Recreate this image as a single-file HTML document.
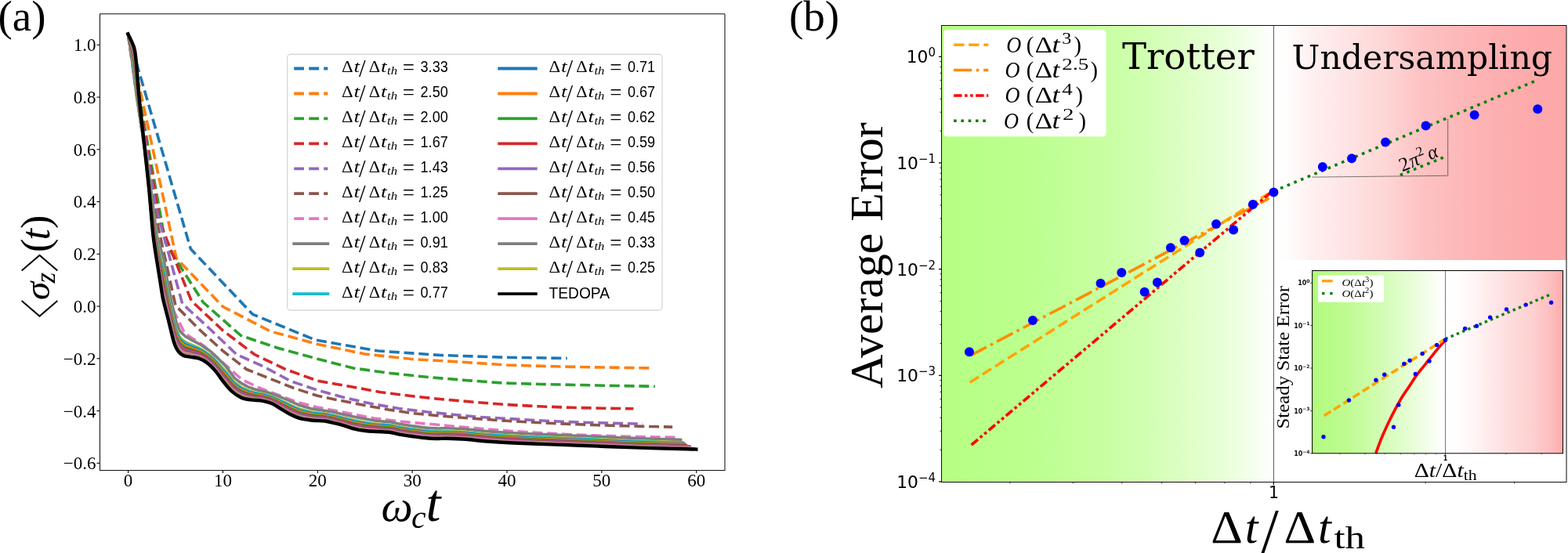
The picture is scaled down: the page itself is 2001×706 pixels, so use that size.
<!DOCTYPE html><html><head><meta charset="utf-8"><title>Figure</title><style>html,body{margin:0;padding:0;background:#fff;overflow:hidden}svg{display:block}</style></head><body><svg width="2001" height="706" viewBox="0 0 2001 706">
<rect width="2001" height="706" fill="#fff"/>
<g font-family="'Liberation Serif', 'DejaVu Serif', serif" font-size="23" fill="#000">
<line x1="123.5" y1="57.30" x2="127.3" y2="57.30" stroke="#000" stroke-width="1.1"/>
<text x="122.6" y="65.2" text-anchor="end">1.0</text>
<line x1="123.5" y1="124.05" x2="127.3" y2="124.05" stroke="#000" stroke-width="1.1"/>
<text x="122.6" y="131.9" text-anchor="end">0.8</text>
<line x1="123.5" y1="190.80" x2="127.3" y2="190.80" stroke="#000" stroke-width="1.1"/>
<text x="122.6" y="198.7" text-anchor="end">0.6</text>
<line x1="123.5" y1="257.55" x2="127.3" y2="257.55" stroke="#000" stroke-width="1.1"/>
<text x="122.6" y="265.4" text-anchor="end">0.4</text>
<line x1="123.5" y1="324.30" x2="127.3" y2="324.30" stroke="#000" stroke-width="1.1"/>
<text x="122.6" y="332.2" text-anchor="end">0.2</text>
<line x1="123.5" y1="391.05" x2="127.3" y2="391.05" stroke="#000" stroke-width="1.1"/>
<text x="122.6" y="398.9" text-anchor="end">0.0</text>
<line x1="123.5" y1="457.80" x2="127.3" y2="457.80" stroke="#000" stroke-width="1.1"/>
<text x="122.6" y="465.7" text-anchor="end">−0.2</text>
<line x1="123.5" y1="524.55" x2="127.3" y2="524.55" stroke="#000" stroke-width="1.1"/>
<text x="122.6" y="532.5" text-anchor="end">−0.4</text>
<line x1="123.5" y1="591.30" x2="127.3" y2="591.30" stroke="#000" stroke-width="1.1"/>
<text x="122.6" y="599.2" text-anchor="end">−0.6</text>
<line x1="163.60" y1="600.3" x2="163.60" y2="604.1" stroke="#000" stroke-width="1.1"/>
<text x="163.60" y="620.7" text-anchor="middle">0</text>
<line x1="284.45" y1="600.3" x2="284.45" y2="604.1" stroke="#000" stroke-width="1.1"/>
<text x="284.45" y="620.7" text-anchor="middle">10</text>
<line x1="405.30" y1="600.3" x2="405.30" y2="604.1" stroke="#000" stroke-width="1.1"/>
<text x="405.30" y="620.7" text-anchor="middle">20</text>
<line x1="526.15" y1="600.3" x2="526.15" y2="604.1" stroke="#000" stroke-width="1.1"/>
<text x="526.15" y="620.7" text-anchor="middle">30</text>
<line x1="647.00" y1="600.3" x2="647.00" y2="604.1" stroke="#000" stroke-width="1.1"/>
<text x="647.00" y="620.7" text-anchor="middle">40</text>
<line x1="767.85" y1="600.3" x2="767.85" y2="604.1" stroke="#000" stroke-width="1.1"/>
<text x="767.85" y="620.7" text-anchor="middle">50</text>
<line x1="888.70" y1="600.3" x2="888.70" y2="604.1" stroke="#000" stroke-width="1.1"/>
<text x="888.70" y="620.7" text-anchor="middle">60</text>
</g>
<g fill="none" stroke-linejoin="round">
<polyline points="163.4,43.4 243.3,317.8 322.5,401.3 401.8,433.8 482.6,448.0 562.4,453.5 642.0,456.2 723.7,457.4" stroke="#1f77b4" stroke-width="3.6" stroke-dasharray="13 5.8"/>
<polyline points="163.4,43.4 225.0,329.5 284.5,391.5 345.2,423.0 405.3,439.5 465.7,452.0 526.0,458.5 586.4,462.0 646.8,466.0 707.0,467.8 767.6,469.0 828.6,469.9" stroke="#ff7f0e" stroke-width="3.6" stroke-dasharray="13 5.8"/>
<polyline points="163.4,43.4 211.2,310.4 259.3,386.0 307.5,428.5 355.0,444.5 402.9,457.5 450.8,470.0 498.6,476.5 546.5,481.5 594.4,485.5 642.0,489.0 690.0,490.5 738.0,491.5 786.0,492.5 835.9,493.2" stroke="#2ca02c" stroke-width="3.6" stroke-dasharray="13 5.8"/>
<polyline points="163.4,43.4 203.9,283.6 244.2,384.0 284.5,422.0 324.8,452.5 365.1,471.8 405.4,486.2 445.7,493.3 486.0,500.7 526.3,505.8 566.6,510.0 606.9,513.5 647.2,516.6 687.5,518.8 727.8,520.3 768.1,521.2 808.4,521.8" stroke="#d62728" stroke-width="3.6" stroke-dasharray="13 5.8"/>
<polyline points="163.4,43.4 198.2,261.7 232.7,387.7 267.3,419.5 301.8,452.5 336.4,468.0 370.9,486.5 405.5,498.2 440.0,507.8 474.6,515.5 509.1,521.5 543.7,525.8 578.2,529.2 612.8,532.5 647.3,534.4 681.9,536.5 716.4,538.3 751.0,539.5 785.5,540.4 820.1,541.1" stroke="#9467bd" stroke-width="3.6" stroke-dasharray="13 5.8"/>
<polyline points="163.4,43.4 193.8,253.4 224.0,390.0 254.2,420.5 284.4,448.0 314.6,471.5 344.8,483.5 375.0,495.5 405.2,505.3 435.4,511.6 465.6,517.5 495.8,523.0 526.0,527.5 556.2,530.5 586.4,533.0 616.6,535.2 646.8,537.3 677.0,539.0 707.2,540.5 737.4,541.8 767.6,542.9 797.8,543.8 828.0,544.5 858.2,545.1" stroke="#8c564b" stroke-width="3.6" stroke-dasharray="13 5.8"/>
<polyline points="163.4,43.4 187.8,215.0 212.0,378.0 236.1,426.0 260.3,441.5 284.5,463.0 308.6,484.5 332.8,496.0 357.0,505.0 381.1,514.0 405.3,520.0 429.5,524.5 453.6,529.5 477.8,534.0 502.0,537.0 526.1,539.5 550.3,541.5 574.5,543.8 598.6,545.8 622.8,548.0 647.0,550.0 671.1,551.5 695.3,553.0 719.5,554.3 743.6,555.3 767.8,556.2 792.0,557.0 816.1,557.6 840.3,558.0 864.5,558.3" stroke="#e377c2" stroke-width="3.6" stroke-dasharray="13 5.8"/>
<path d="M163.40,43.40 C164.30,49.50 167.53,71.06 168.80,80.00 C170.07,88.94 170.20,90.86 171.00,97.07 C171.80,103.28 173.00,112.59 173.60,117.24 C174.20,121.90 173.93,120.48 174.60,125.00 C175.27,129.52 176.57,137.69 177.60,144.35 C178.63,151.02 179.80,159.12 180.80,165.00 C181.80,170.88 182.48,173.79 183.60,179.63 C184.72,185.46 186.43,193.27 187.50,200.00 C188.57,206.73 188.68,209.47 190.00,220.00 C191.32,230.53 193.73,249.87 195.40,263.20 C197.07,276.53 199.15,293.58 200.00,300.00 C200.85,306.42 199.75,299.15 200.50,301.70 C201.25,304.26 203.30,311.25 204.50,315.34 C205.70,319.43 206.98,323.81 207.70,326.25 C208.42,328.69 208.22,326.99 208.80,330.00 C209.38,333.01 210.37,339.34 211.20,344.30 C212.03,349.27 213.20,356.39 213.80,359.80 C214.40,363.21 214.05,361.04 214.80,364.75 C215.55,368.46 217.47,377.95 218.30,382.07 C219.13,386.20 219.20,386.76 219.80,389.50 C220.40,392.24 221.08,395.00 221.90,398.50 C222.72,402.00 224.12,408.22 224.70,410.50 C225.28,412.78 224.57,410.18 225.40,412.18 C226.23,414.18 228.05,419.83 229.70,422.50 C231.35,425.17 234.13,427.00 235.30,428.18 C236.47,429.36 235.28,428.70 236.70,429.60 C238.12,430.50 242.13,432.64 243.80,433.58 C245.47,434.51 245.28,434.43 246.70,435.20 C248.12,435.97 250.42,437.17 252.30,438.17 C254.18,439.17 256.82,440.53 258.00,441.20 C259.18,441.87 257.98,441.19 259.40,442.17 C260.82,443.14 264.85,445.93 266.50,447.07 C268.15,448.21 268.12,447.99 269.30,449.00 C270.48,450.01 271.95,451.56 273.60,453.15 C275.25,454.74 278.02,457.41 279.20,458.55 C280.38,459.69 279.93,459.21 280.70,460.00 C281.47,460.79 282.38,461.78 283.80,463.28 C285.22,464.78 287.22,466.60 289.20,469.00 C291.18,471.40 293.98,475.41 295.70,477.71 C297.42,480.01 297.52,480.92 299.50,482.80 C301.48,484.68 306.18,487.91 307.60,488.99 C309.02,490.08 306.52,488.50 308.00,489.30 C309.48,490.10 314.58,492.86 316.50,493.80 C318.42,494.74 318.08,494.40 319.50,494.93 C320.92,495.46 322.37,496.25 325.00,497.00 C327.63,497.75 332.80,498.82 335.30,499.40 C337.80,499.99 338.02,499.90 340.00,500.50 C341.98,501.10 344.83,502.17 347.20,502.98 C349.57,503.80 352.22,504.67 354.20,505.40 C356.18,506.13 356.75,506.43 359.10,507.38 C361.45,508.33 366.32,510.28 368.30,511.10 C370.28,511.92 368.63,511.25 371.00,512.32 C373.37,513.38 380.52,516.62 382.50,517.50 C384.48,518.38 380.53,516.92 382.90,517.62 C385.27,518.32 394.05,520.97 396.70,521.70 C399.35,522.43 396.45,521.66 398.80,522.01 C401.15,522.36 408.17,523.40 410.80,523.80 C413.43,524.20 412.23,524.02 414.60,524.39 C416.97,524.76 423.02,525.67 425.00,526.00 C426.98,526.33 424.27,525.82 426.50,526.37 C428.73,526.92 436.28,528.78 438.40,529.30 C440.52,529.82 437.22,529.09 439.20,529.50 C441.18,529.91 446.83,531.04 450.30,531.74 C453.77,532.44 457.35,533.19 460.00,533.70 C462.65,534.21 462.53,534.14 466.20,534.79 C469.87,535.43 476.72,536.92 482.00,537.56 C487.28,538.20 493.27,538.01 497.90,538.63 C502.53,539.25 505.17,540.43 509.80,541.29 C514.43,542.14 520.42,543.01 525.70,543.77 C530.98,544.52 536.22,545.32 541.50,545.84 C546.78,546.37 552.60,546.76 557.40,546.92 C562.20,547.07 564.13,546.61 570.30,546.78 C576.47,546.94 586.37,547.29 594.40,547.89 C602.43,548.50 609.23,549.63 618.50,550.41 C627.77,551.18 637.20,551.85 650.00,552.56 C662.80,553.27 680.18,554.02 695.30,554.67 C710.42,555.33 725.58,555.85 740.70,556.49 C755.82,557.13 770.90,557.87 786.00,558.50 C801.10,559.14 817.52,559.84 831.30,560.32 C845.08,560.80 862.47,561.22 868.70,561.40" stroke="#7f7f7f" stroke-width="3.6" stroke-linecap="square"/>
<path d="M163.40,43.40 C164.30,48.36 167.53,65.92 168.80,73.15 C170.07,80.39 170.20,81.36 171.00,86.83 C171.80,92.30 173.00,101.32 173.60,106.00 C174.20,110.69 173.93,109.45 174.60,114.94 C175.27,120.43 176.57,131.09 177.60,138.94 C178.63,146.78 179.80,155.21 180.80,162.01 C181.80,168.81 182.48,172.63 183.60,179.73 C184.72,186.84 186.43,196.99 187.50,204.64 C188.57,212.28 188.68,214.12 190.00,225.60 C191.32,237.08 193.73,259.63 195.40,273.50 C197.07,287.38 199.15,302.59 200.00,308.84 C200.85,315.09 199.75,307.86 200.50,311.03 C201.25,314.19 203.30,322.80 204.50,327.85 C205.70,332.89 206.98,338.40 207.70,341.30 C208.42,344.20 208.22,342.42 208.80,345.25 C209.38,348.08 210.37,353.77 211.20,358.27 C212.03,362.78 213.20,369.17 213.80,372.28 C214.40,375.39 214.05,373.43 214.80,376.94 C215.55,380.46 217.47,389.49 218.30,393.39 C219.13,397.30 219.20,397.76 219.80,400.40 C220.40,403.03 221.08,405.97 221.90,409.20 C222.72,412.42 224.12,417.70 224.70,419.74 C225.28,421.78 224.57,419.64 225.40,421.43 C226.23,423.21 228.05,428.07 229.70,430.42 C231.35,432.77 234.13,434.49 235.30,435.52 C236.47,436.55 235.28,435.90 236.70,436.61 C238.12,437.32 242.13,439.05 243.80,439.80 C245.47,440.55 245.28,440.48 246.70,441.10 C248.12,441.72 250.42,442.63 252.30,443.50 C254.18,444.37 256.82,445.70 258.00,446.31 C259.18,446.92 257.98,446.20 259.40,447.16 C260.82,448.12 264.85,450.90 266.50,452.09 C268.15,453.27 268.12,453.20 269.30,454.26 C270.48,455.33 271.95,456.78 273.60,458.46 C275.25,460.13 278.02,463.08 279.20,464.33 C280.38,465.58 279.93,465.09 280.70,465.96 C281.47,466.83 282.38,467.96 283.80,469.53 C285.22,471.11 287.22,473.03 289.20,475.41 C291.18,477.79 293.98,481.68 295.70,483.81 C297.42,485.94 297.52,486.46 299.50,488.18 C301.48,489.91 306.18,493.11 307.60,494.15 C309.02,495.18 306.52,493.71 308.00,494.40 C309.48,495.08 314.58,497.43 316.50,498.24 C318.42,499.05 318.08,498.82 319.50,499.26 C320.92,499.70 322.37,500.29 325.00,500.89 C327.63,501.49 332.80,502.35 335.30,502.87 C337.80,503.40 338.02,503.46 340.00,504.05 C341.98,504.64 344.83,505.55 347.20,506.43 C349.57,507.31 352.22,508.47 354.20,509.32 C356.18,510.18 356.75,510.49 359.10,511.56 C361.45,512.63 366.32,514.82 368.30,515.73 C370.28,516.64 368.63,515.98 371.00,517.04 C373.37,518.11 380.52,521.26 382.50,522.13 C384.48,523.00 380.53,521.65 382.90,522.26 C385.27,522.87 394.05,525.16 396.70,525.81 C399.35,526.45 396.45,525.83 398.80,526.13 C401.15,526.42 408.17,527.26 410.80,527.58 C413.43,527.90 412.23,527.68 414.60,528.06 C416.97,528.44 423.02,529.50 425.00,529.86 C426.98,530.22 424.27,529.66 426.50,530.21 C428.73,530.77 436.28,532.64 438.40,533.17 C440.52,533.69 437.22,532.90 439.20,533.38 C441.18,533.86 446.83,535.28 450.30,536.04 C453.77,536.80 457.35,537.45 460.00,537.95 C462.65,538.45 462.53,538.48 466.20,539.05 C469.87,539.61 476.72,540.77 482.00,541.32 C487.28,541.88 493.27,541.76 497.90,542.38 C502.53,542.99 505.17,544.17 509.80,545.02 C514.43,545.87 520.42,546.72 525.70,547.47 C530.98,548.22 536.22,549.01 541.50,549.53 C546.78,550.04 552.60,550.43 557.40,550.58 C562.20,550.73 564.13,550.27 570.30,550.42 C576.47,550.58 586.37,550.91 594.40,551.51 C602.43,552.10 609.23,553.22 618.50,553.99 C627.77,554.75 637.20,555.40 650.00,556.10 C662.80,556.79 680.18,557.52 695.30,558.15 C710.42,558.79 725.58,559.29 740.70,559.91 C755.82,560.53 770.90,561.24 786.00,561.86 C801.10,562.48 817.22,563.15 831.30,563.62 C845.38,564.09 863.97,564.52 870.50,564.70" stroke="#bcbd22" stroke-width="3.6" stroke-linecap="square"/>
<path d="M163.40,43.40 C164.30,48.11 167.53,64.81 168.80,71.69 C170.07,78.56 170.20,79.32 171.00,84.64 C171.80,89.95 173.00,98.90 173.60,103.59 C174.20,108.28 173.93,107.09 174.60,112.79 C175.27,118.48 176.57,129.68 177.60,137.77 C178.63,145.87 179.80,154.38 180.80,161.37 C181.80,168.37 182.48,172.38 183.60,179.75 C184.72,187.13 186.43,197.79 187.50,205.63 C188.57,213.47 188.68,215.12 190.00,226.80 C191.32,238.48 193.73,261.72 195.40,275.71 C197.07,289.70 199.15,304.51 200.00,310.73 C200.85,316.95 199.75,309.73 200.50,313.02 C201.25,316.32 203.30,325.27 204.50,330.52 C205.70,335.77 206.98,341.53 207.70,344.52 C208.42,347.52 208.22,345.73 208.80,348.52 C209.38,351.31 210.37,356.86 211.20,361.27 C212.03,365.68 213.20,371.91 213.80,374.96 C214.40,378.01 214.05,376.08 214.80,379.56 C215.55,383.03 217.47,391.96 218.30,395.82 C219.13,399.68 219.20,400.12 219.80,402.73 C220.40,405.34 221.08,408.32 221.90,411.49 C222.72,414.65 224.12,419.73 224.70,421.72 C225.28,423.71 224.57,421.67 225.40,423.41 C226.23,425.14 228.05,429.84 229.70,432.12 C231.35,434.40 234.13,436.10 235.30,437.09 C236.47,438.09 235.28,437.44 236.70,438.11 C238.12,438.78 242.13,440.42 243.80,441.13 C245.47,441.84 245.28,441.78 246.70,442.37 C248.12,442.95 250.42,443.80 252.30,444.64 C254.18,445.48 256.82,446.81 258.00,447.40 C259.18,448.00 257.98,447.27 259.40,448.23 C260.82,449.19 264.85,451.97 266.50,453.16 C268.15,454.36 268.12,454.32 269.30,455.39 C270.48,456.46 271.95,457.90 273.60,459.59 C275.25,461.29 278.02,464.30 279.20,465.57 C280.38,466.85 279.93,466.35 280.70,467.24 C281.47,468.12 282.38,469.28 283.80,470.87 C285.22,472.46 287.22,474.41 289.20,476.79 C291.18,479.16 293.98,483.03 295.70,485.12 C297.42,487.21 297.52,487.65 299.50,489.34 C301.48,491.02 306.18,494.23 307.60,495.25 C309.02,496.28 306.52,494.83 308.00,495.49 C309.48,496.14 314.58,498.40 316.50,499.19 C318.42,499.97 318.08,499.77 319.50,500.19 C320.92,500.61 322.37,501.15 325.00,501.72 C327.63,502.29 332.80,503.10 335.30,503.62 C337.80,504.13 338.02,504.22 340.00,504.81 C341.98,505.40 344.83,506.28 347.20,507.17 C349.57,508.06 352.22,509.29 354.20,510.17 C356.18,511.05 356.75,511.36 359.10,512.45 C361.45,513.55 366.32,515.79 368.30,516.72 C370.28,517.66 368.63,516.99 371.00,518.06 C373.37,519.12 380.52,522.25 382.50,523.12 C384.48,523.99 380.53,522.66 382.90,523.26 C385.27,523.85 394.05,526.06 396.70,526.69 C399.35,527.31 396.45,526.72 398.80,527.01 C401.15,527.29 408.17,528.09 410.80,528.39 C413.43,528.70 412.23,528.46 414.60,528.85 C416.97,529.23 423.02,530.32 425.00,530.68 C426.98,531.05 424.27,530.49 426.50,531.04 C428.73,531.59 436.28,533.46 438.40,533.99 C440.52,534.52 437.22,533.72 439.20,534.22 C441.18,534.71 446.83,536.19 450.30,536.96 C453.77,537.74 457.35,538.36 460.00,538.86 C462.65,539.36 462.53,539.41 466.20,539.96 C469.87,540.50 476.72,541.59 482.00,542.13 C487.28,542.66 493.27,542.56 497.90,543.18 C502.53,543.79 505.17,544.97 509.80,545.82 C514.43,546.66 520.42,547.52 525.70,548.27 C530.98,549.01 536.22,549.80 541.50,550.31 C546.78,550.83 552.60,551.22 557.40,551.36 C562.20,551.51 564.13,551.05 570.30,551.21 C576.47,551.36 586.37,551.69 594.40,552.28 C602.43,552.87 609.23,553.99 618.50,554.76 C627.77,555.52 637.20,556.17 650.00,556.86 C662.80,557.55 680.18,558.27 695.30,558.90 C710.42,559.53 725.58,560.03 740.70,560.64 C755.82,561.25 770.90,561.97 786.00,562.58 C801.10,563.20 817.02,563.85 831.30,564.33 C845.58,564.80 864.97,565.25 871.70,565.43" stroke="#17becf" stroke-width="3.6" stroke-linecap="square"/>
<path d="M163.40,43.40 C164.30,47.79 167.53,63.35 168.80,69.73 C170.07,76.12 170.20,76.60 171.00,81.71 C171.80,86.82 173.00,95.68 173.60,100.38 C174.20,105.08 173.93,103.94 174.60,109.91 C175.27,115.89 176.57,127.79 177.60,136.23 C178.63,144.66 179.80,153.26 180.80,160.52 C181.80,167.78 182.48,172.04 183.60,179.78 C184.72,187.52 186.43,198.85 187.50,206.96 C188.57,215.06 188.68,216.45 190.00,228.40 C191.32,240.35 193.73,264.51 195.40,278.66 C197.07,292.80 199.15,307.09 200.00,313.26 C200.85,319.43 199.75,312.22 200.50,315.69 C201.25,319.16 203.30,328.57 204.50,334.10 C205.70,339.62 206.98,345.70 207.70,348.82 C208.42,351.95 208.22,350.14 208.80,352.87 C209.38,355.61 210.37,360.99 211.20,365.26 C212.03,369.54 213.20,375.56 213.80,378.53 C214.40,381.49 214.05,379.62 214.80,383.04 C215.55,386.46 217.47,395.25 218.30,399.05 C219.13,402.85 219.20,403.26 219.80,405.85 C220.40,408.43 221.08,411.46 221.90,414.54 C222.72,417.63 224.12,422.44 224.70,424.36 C225.28,426.28 224.57,424.38 225.40,426.05 C226.23,427.72 228.05,432.20 229.70,434.39 C231.35,436.58 234.13,438.24 235.30,439.19 C236.47,440.15 235.28,439.49 236.70,440.11 C238.12,440.73 242.13,442.25 243.80,442.91 C245.47,443.57 245.28,443.51 246.70,444.05 C248.12,444.60 250.42,445.36 252.30,446.16 C254.18,446.97 256.82,448.28 258.00,448.86 C259.18,449.45 257.98,448.70 259.40,449.66 C260.82,450.61 264.85,453.39 266.50,454.60 C268.15,455.81 268.12,455.81 269.30,456.90 C270.48,457.98 271.95,459.39 273.60,461.11 C275.25,462.83 278.02,465.92 279.20,467.22 C280.38,468.53 279.93,468.04 280.70,468.94 C281.47,469.85 282.38,471.04 283.80,472.66 C285.22,474.27 287.22,476.25 289.20,478.62 C291.18,480.99 293.98,484.82 295.70,486.86 C297.42,488.90 297.52,489.23 299.50,490.87 C301.48,492.52 306.18,495.71 307.60,496.72 C309.02,497.74 306.52,496.32 308.00,496.94 C309.48,497.57 314.58,499.71 316.50,500.45 C318.42,501.20 318.08,501.03 319.50,501.43 C320.92,501.82 322.37,502.30 325.00,502.83 C327.63,503.36 332.80,504.11 335.30,504.61 C337.80,505.11 338.02,505.24 340.00,505.83 C341.98,506.42 344.83,507.25 347.20,508.16 C349.57,509.07 352.22,510.37 354.20,511.29 C356.18,512.20 356.75,512.52 359.10,513.65 C361.45,514.77 366.32,517.08 368.30,518.04 C370.28,519.00 368.63,518.34 371.00,519.41 C373.37,520.47 380.52,523.58 382.50,524.44 C384.48,525.31 380.53,524.01 382.90,524.58 C385.27,525.15 394.05,527.26 396.70,527.86 C399.35,528.46 396.45,527.91 398.80,528.18 C401.15,528.45 408.17,529.19 410.80,529.47 C413.43,529.76 412.23,529.51 414.60,529.90 C416.97,530.28 423.02,531.41 425.00,531.78 C426.98,532.16 424.27,531.58 426.50,532.14 C428.73,532.69 436.28,534.57 438.40,535.10 C440.52,535.63 437.22,534.81 439.20,535.32 C441.18,535.84 446.83,537.40 450.30,538.19 C453.77,538.98 457.35,539.57 460.00,540.07 C462.65,540.57 462.53,540.65 466.20,541.18 C469.87,541.70 476.72,542.69 482.00,543.20 C487.28,543.71 493.27,543.63 497.90,544.25 C502.53,544.86 505.17,546.03 509.80,546.88 C514.43,547.73 520.42,548.58 525.70,549.32 C530.98,550.07 536.22,550.85 541.50,551.37 C546.78,551.88 552.60,552.26 557.40,552.41 C562.20,552.56 564.13,552.10 570.30,552.25 C576.47,552.40 586.37,552.72 594.40,553.31 C602.43,553.90 609.23,555.02 618.50,555.78 C627.77,556.54 637.20,557.18 650.00,557.87 C662.80,558.55 680.18,559.27 695.30,559.89 C710.42,560.52 725.58,561.01 740.70,561.62 C755.82,562.23 770.90,562.93 786.00,563.54 C801.10,564.15 816.83,564.79 831.30,565.27 C845.77,565.74 865.88,566.20 872.80,566.39" stroke="#1f77b4" stroke-width="3.6" stroke-linecap="square"/>
<path d="M163.40,43.40 C164.30,47.54 167.53,62.24 168.80,68.26 C170.07,74.28 170.20,74.56 171.00,79.52 C171.80,84.47 173.00,93.27 173.60,97.97 C174.20,102.68 173.93,101.57 174.60,107.76 C175.27,113.94 176.57,126.38 177.60,135.06 C178.63,143.75 179.80,152.42 180.80,159.88 C181.80,167.34 182.48,171.79 183.60,179.81 C184.72,187.82 186.43,199.65 187.50,207.95 C188.57,216.25 188.68,217.45 190.00,229.60 C191.32,241.75 193.73,266.61 195.40,280.86 C197.07,295.12 199.15,309.02 200.00,315.15 C200.85,321.29 199.75,314.08 200.50,317.69 C201.25,321.29 203.30,331.05 204.50,336.78 C205.70,342.50 206.98,348.82 207.70,352.05 C208.42,355.28 208.22,353.44 208.80,356.14 C209.38,358.84 210.37,364.08 211.20,368.25 C212.03,372.43 213.20,378.30 213.80,381.20 C214.40,384.10 214.05,382.27 214.80,385.65 C215.55,389.03 217.47,397.72 218.30,401.48 C219.13,405.23 219.20,405.62 219.80,408.18 C220.40,410.74 221.08,413.81 221.90,416.84 C222.72,419.86 224.12,424.47 224.70,426.34 C225.28,428.21 224.57,426.41 225.40,428.03 C226.23,429.65 228.05,433.96 229.70,436.08 C231.35,438.21 234.13,439.84 235.30,440.77 C236.47,441.69 235.28,441.04 236.70,441.61 C238.12,442.19 242.13,443.63 243.80,444.24 C245.47,444.86 245.28,444.81 246.70,445.32 C248.12,445.83 250.42,446.53 252.30,447.31 C254.18,448.08 256.82,449.39 258.00,449.96 C259.18,450.53 257.98,449.77 259.40,450.73 C260.82,451.68 264.85,454.46 266.50,455.67 C268.15,456.89 268.12,456.93 269.30,458.02 C270.48,459.12 271.95,460.51 273.60,462.25 C275.25,463.99 278.02,467.13 279.20,468.46 C280.38,469.79 279.93,469.30 280.70,470.22 C281.47,471.14 282.38,472.37 283.80,473.99 C285.22,475.62 287.22,477.63 289.20,480.00 C291.18,482.36 293.98,486.16 295.70,488.17 C297.42,490.17 297.52,490.42 299.50,492.03 C301.48,493.64 306.18,496.83 307.60,497.83 C309.02,498.83 306.52,497.44 308.00,498.04 C309.48,498.63 314.58,500.69 316.50,501.40 C318.42,502.12 318.08,501.98 319.50,502.36 C320.92,502.73 322.37,503.17 325.00,503.67 C327.63,504.17 332.80,504.87 335.30,505.35 C337.80,505.84 338.02,506.00 340.00,506.59 C341.98,507.18 344.83,507.97 347.20,508.90 C349.57,509.82 352.22,511.19 354.20,512.13 C356.18,513.07 356.75,513.39 359.10,514.54 C361.45,515.69 366.32,518.06 368.30,519.04 C370.28,520.02 368.63,519.35 371.00,520.42 C373.37,521.49 380.52,524.58 382.50,525.44 C384.48,526.29 380.53,525.03 382.90,525.58 C385.27,526.13 394.05,528.16 396.70,528.74 C399.35,529.32 396.45,528.81 398.80,529.06 C401.15,529.32 408.17,530.01 410.80,530.28 C413.43,530.55 412.23,530.29 414.60,530.68 C416.97,531.07 423.02,532.23 425.00,532.61 C426.98,532.99 424.27,532.41 426.50,532.96 C428.73,533.51 436.28,535.39 438.40,535.93 C440.52,536.46 437.22,535.63 439.20,536.16 C441.18,536.69 446.83,538.31 450.30,539.11 C453.77,539.92 457.35,540.49 460.00,540.98 C462.65,541.48 462.53,541.58 466.20,542.09 C469.87,542.59 476.72,543.52 482.00,544.01 C487.28,544.50 493.27,544.44 497.90,545.05 C502.53,545.66 505.17,546.83 509.80,547.68 C514.43,548.52 520.42,549.37 525.70,550.12 C530.98,550.86 536.22,551.64 541.50,552.16 C546.78,552.67 552.60,553.05 557.40,553.20 C562.20,553.34 564.13,552.88 570.30,553.03 C576.47,553.18 586.37,553.50 594.40,554.09 C602.43,554.67 609.23,555.79 618.50,556.55 C627.77,557.30 637.20,557.94 650.00,558.63 C662.80,559.31 680.18,560.02 695.30,560.64 C710.42,561.26 725.58,561.75 740.70,562.35 C755.82,562.95 770.90,563.66 786.00,564.26 C801.10,564.87 816.72,565.50 831.30,565.97 C845.88,566.45 866.47,566.91 873.50,567.10" stroke="#ff7f0e" stroke-width="3.6" stroke-linecap="square"/>
<path d="M163.40,43.40 C164.30,47.22 167.53,60.78 168.80,66.31 C170.07,71.84 170.20,71.85 171.00,76.59 C171.80,81.33 173.00,90.05 173.60,94.76 C174.20,99.48 173.93,98.42 174.60,104.88 C175.27,111.34 176.57,124.49 177.60,133.52 C178.63,142.54 179.80,151.31 180.80,159.03 C181.80,166.75 182.48,171.46 183.60,179.84 C184.72,188.21 186.43,200.71 187.50,209.28 C188.57,217.84 188.68,218.78 190.00,231.20 C191.32,243.62 193.73,269.39 195.40,283.81 C197.07,298.22 199.15,311.59 200.00,317.68 C200.85,323.77 199.75,316.57 200.50,320.35 C201.25,324.13 203.30,334.35 204.50,340.35 C205.70,346.35 206.98,352.99 207.70,356.35 C208.42,359.71 208.22,357.85 208.80,360.50 C209.38,363.15 210.37,368.20 211.20,372.25 C212.03,376.29 213.20,381.95 213.80,384.77 C214.40,387.58 214.05,385.81 214.80,389.14 C215.55,392.46 217.47,401.02 218.30,404.71 C219.13,408.41 219.20,408.76 219.80,411.29 C220.40,413.82 221.08,416.94 221.90,419.89 C222.72,422.84 224.12,427.18 224.70,428.98 C225.28,430.78 224.57,429.11 225.40,430.67 C226.23,432.23 228.05,436.32 229.70,438.35 C231.35,440.38 234.13,441.99 235.30,442.86 C236.47,443.74 235.28,443.09 236.70,443.62 C238.12,444.14 242.13,445.46 243.80,446.02 C245.47,446.59 245.28,446.54 246.70,447.00 C248.12,447.47 250.42,448.09 252.30,448.83 C254.18,449.56 256.82,450.86 258.00,451.42 C259.18,451.97 257.98,451.20 259.40,452.15 C260.82,453.10 264.85,455.88 266.50,457.11 C268.15,458.34 268.12,458.42 269.30,459.53 C270.48,460.64 271.95,462.00 273.60,463.76 C275.25,465.53 278.02,468.76 279.20,470.12 C280.38,471.48 279.93,470.98 280.70,471.92 C281.47,472.86 282.38,474.13 283.80,475.78 C285.22,477.43 287.22,479.47 289.20,481.83 C291.18,484.18 293.98,487.96 295.70,489.91 C297.42,491.87 297.52,492.00 299.50,493.56 C301.48,495.13 306.18,498.31 307.60,499.30 C309.02,500.29 306.52,498.93 308.00,499.49 C309.48,500.05 314.58,501.99 316.50,502.67 C318.42,503.36 318.08,503.24 319.50,503.59 C320.92,503.94 322.37,504.32 325.00,504.78 C327.63,505.24 332.80,505.87 335.30,506.35 C337.80,506.82 338.02,507.01 340.00,507.60 C341.98,508.19 344.83,508.94 347.20,509.88 C349.57,510.82 352.22,512.27 354.20,513.25 C356.18,514.23 356.75,514.55 359.10,515.74 C361.45,516.92 366.32,519.35 368.30,520.36 C370.28,521.37 368.63,520.71 371.00,521.77 C373.37,522.84 380.52,525.90 382.50,526.76 C384.48,527.61 380.53,526.38 382.90,526.90 C385.27,527.43 394.05,529.36 396.70,529.92 C399.35,530.47 396.45,530.00 398.80,530.24 C401.15,530.48 408.17,531.12 410.80,531.36 C413.43,531.61 412.23,531.34 414.60,531.73 C416.97,532.12 423.02,533.32 425.00,533.71 C426.98,534.10 424.27,533.51 426.50,534.06 C428.73,534.61 436.28,536.49 438.40,537.03 C440.52,537.56 437.22,536.71 439.20,537.27 C441.18,537.82 446.83,539.52 450.30,540.34 C453.77,541.16 457.35,541.70 460.00,542.19 C462.65,542.69 462.53,542.82 466.20,543.31 C469.87,543.79 476.72,544.62 482.00,545.09 C487.28,545.55 493.27,545.51 497.90,546.12 C502.53,546.73 505.17,547.90 509.80,548.74 C514.43,549.59 520.42,550.43 525.70,551.18 C530.98,551.92 536.22,552.70 541.50,553.21 C546.78,553.72 552.60,554.10 557.40,554.24 C562.20,554.39 564.13,553.92 570.30,554.07 C576.47,554.22 586.37,554.54 594.40,555.12 C602.43,555.70 609.23,556.82 618.50,557.57 C627.77,558.32 637.20,558.96 650.00,559.64 C662.80,560.31 680.18,561.02 695.30,561.63 C710.42,562.25 725.58,562.73 740.70,563.33 C755.82,563.93 770.90,564.62 786.00,565.22 C801.10,565.82 816.57,566.45 831.30,566.92 C846.03,567.39 867.22,567.86 874.40,568.05" stroke="#2ca02c" stroke-width="3.6" stroke-linecap="square"/>
<path d="M163.40,43.40 C164.30,46.89 167.53,59.31 168.80,64.35 C170.07,69.40 170.20,69.13 171.00,73.66 C171.80,78.20 173.00,86.83 173.60,91.55 C174.20,96.27 173.93,95.27 174.60,102.01 C175.27,108.74 176.57,122.61 177.60,131.97 C178.63,141.33 179.80,150.19 180.80,158.17 C181.80,166.16 182.48,171.13 183.60,179.87 C184.72,188.60 186.43,201.78 187.50,210.60 C188.57,219.42 188.68,220.11 190.00,232.80 C191.32,245.49 193.73,272.18 195.40,286.75 C197.07,301.32 199.15,314.16 200.00,320.20 C200.85,326.25 199.75,319.06 200.50,323.01 C201.25,326.97 203.30,337.65 204.50,343.92 C205.70,350.20 206.98,357.16 207.70,360.65 C208.42,364.14 208.22,362.26 208.80,364.86 C209.38,367.45 210.37,372.32 211.20,376.24 C212.03,380.15 213.20,385.60 213.80,388.33 C214.40,391.06 214.05,389.35 214.80,392.62 C215.55,395.89 217.47,404.32 218.30,407.95 C219.13,411.58 219.20,411.91 219.80,414.41 C220.40,416.91 221.08,420.08 221.90,422.95 C222.72,425.82 224.12,429.89 224.70,431.62 C225.28,433.35 224.57,431.81 225.40,433.31 C226.23,434.81 228.05,438.67 229.70,440.61 C231.35,442.55 234.13,444.13 235.30,444.96 C236.47,445.80 235.28,445.15 236.70,445.62 C238.12,446.09 242.13,447.29 243.80,447.80 C245.47,448.31 245.28,448.26 246.70,448.69 C248.12,449.11 250.42,449.65 252.30,450.35 C254.18,451.05 256.82,452.34 258.00,452.88 C259.18,453.42 257.98,452.64 259.40,453.58 C260.82,454.52 264.85,457.30 266.50,458.54 C268.15,459.79 268.12,459.91 269.30,461.03 C270.48,462.15 271.95,463.49 273.60,465.28 C275.25,467.07 278.02,470.38 279.20,471.77 C280.38,473.16 279.93,472.66 280.70,473.62 C281.47,474.59 282.38,475.89 283.80,477.57 C285.22,479.24 287.22,481.31 289.20,483.66 C291.18,486.01 293.98,489.75 295.70,491.66 C297.42,493.56 297.52,493.58 299.50,495.10 C301.48,496.62 306.18,499.80 307.60,500.77 C309.02,501.75 306.52,500.42 308.00,500.95 C309.48,501.48 314.58,503.29 316.50,503.94 C318.42,504.59 318.08,504.51 319.50,504.83 C320.92,505.16 322.37,505.47 325.00,505.89 C327.63,506.31 332.80,506.88 335.30,507.34 C337.80,507.79 338.02,508.03 340.00,508.62 C341.98,509.20 344.83,509.91 347.20,510.87 C349.57,511.83 352.22,513.36 354.20,514.37 C356.18,515.38 356.75,515.71 359.10,516.93 C361.45,518.15 366.32,520.65 368.30,521.68 C370.28,522.71 368.63,522.06 371.00,523.12 C373.37,524.19 380.52,527.23 382.50,528.08 C384.48,528.93 380.53,527.73 382.90,528.23 C385.27,528.73 394.05,530.56 396.70,531.09 C399.35,531.62 396.45,531.19 398.80,531.41 C401.15,531.64 408.17,532.22 410.80,532.44 C413.43,532.67 412.23,532.39 414.60,532.78 C416.97,533.17 423.02,534.42 425.00,534.81 C426.98,535.21 424.27,534.60 426.50,535.16 C428.73,535.71 436.28,537.60 438.40,538.13 C440.52,538.67 437.22,537.80 439.20,538.38 C441.18,538.95 446.83,540.73 450.30,541.57 C453.77,542.41 457.35,542.92 460.00,543.41 C462.65,543.90 462.53,544.06 466.20,544.52 C469.87,544.98 476.72,545.72 482.00,546.16 C487.28,546.60 493.27,546.58 497.90,547.19 C502.53,547.80 505.17,548.97 509.80,549.81 C514.43,550.65 520.42,551.49 525.70,552.24 C530.98,552.98 536.22,553.75 541.50,554.26 C546.78,554.77 552.60,555.15 557.40,555.29 C562.20,555.43 564.13,554.97 570.30,555.11 C576.47,555.26 586.37,555.57 594.40,556.15 C602.43,556.73 609.23,557.85 618.50,558.59 C627.77,559.34 637.20,559.98 650.00,560.65 C662.80,561.32 680.18,562.02 695.30,562.63 C710.42,563.24 725.58,563.71 740.70,564.30 C755.82,564.90 770.90,565.59 786.00,566.18 C801.10,566.77 816.38,567.39 831.30,567.86 C846.22,568.33 868.13,568.81 875.50,569.01" stroke="#d62728" stroke-width="3.6" stroke-linecap="square"/>
<path d="M163.40,43.40 C164.30,46.65 167.53,58.21 168.80,62.89 C170.07,67.56 170.20,67.09 171.00,71.47 C171.80,75.85 173.00,84.41 173.60,89.14 C174.20,93.87 173.93,92.91 174.60,99.85 C175.27,106.80 176.57,121.19 177.60,130.81 C178.63,140.42 179.80,149.35 180.80,157.53 C181.80,165.71 182.48,170.88 183.60,179.89 C184.72,188.90 186.43,202.58 187.50,211.59 C188.57,220.61 188.68,221.11 190.00,234.00 C191.32,246.89 193.73,274.28 195.40,288.96 C197.07,303.64 199.15,316.09 200.00,322.10 C200.85,328.11 199.75,320.93 200.50,325.01 C201.25,329.10 203.30,340.12 204.50,346.60 C205.70,353.08 206.98,360.29 207.70,363.88 C208.42,367.46 208.22,365.56 208.80,368.12 C209.38,370.68 210.37,375.42 211.20,379.23 C212.03,383.05 213.20,388.34 213.80,391.01 C214.40,393.68 214.05,392.01 214.80,395.24 C215.55,398.46 217.47,406.79 218.30,410.37 C219.13,413.96 219.20,414.26 219.80,416.74 C220.40,419.22 221.08,422.43 221.90,425.24 C222.72,428.05 224.12,431.92 224.70,433.60 C225.28,435.28 224.57,433.84 225.40,435.29 C226.23,436.75 228.05,440.44 229.70,442.31 C231.35,444.18 234.13,445.73 235.30,446.53 C236.47,447.34 235.28,446.69 236.70,447.12 C238.12,447.55 242.13,448.66 243.80,449.13 C245.47,449.60 245.28,449.56 246.70,449.95 C248.12,450.35 250.42,450.82 252.30,451.49 C254.18,452.16 256.82,453.45 258.00,453.97 C259.18,454.50 257.98,453.71 259.40,454.65 C260.82,455.59 264.85,458.37 266.50,459.62 C268.15,460.87 268.12,461.03 269.30,462.16 C270.48,463.29 271.95,464.61 273.60,466.41 C275.25,468.22 278.02,471.59 279.20,473.01 C280.38,474.42 279.93,473.92 280.70,474.90 C281.47,475.88 282.38,477.22 283.80,478.90 C285.22,480.59 287.22,482.69 289.20,485.04 C291.18,487.38 293.98,491.09 295.70,492.96 C297.42,494.83 297.52,494.77 299.50,496.26 C301.48,497.74 306.18,500.91 307.60,501.88 C309.02,502.84 306.52,501.54 308.00,502.04 C309.48,502.54 314.58,504.27 316.50,504.89 C318.42,505.51 318.08,505.45 319.50,505.76 C320.92,506.06 322.37,506.33 325.00,506.72 C327.63,507.11 332.80,507.64 335.30,508.08 C337.80,508.52 338.02,508.79 340.00,509.38 C341.98,509.97 344.83,510.63 347.20,511.61 C349.57,512.58 352.22,514.18 354.20,515.21 C356.18,516.25 356.75,516.58 359.10,517.82 C361.45,519.07 366.32,521.62 368.30,522.67 C370.28,523.73 368.63,523.07 371.00,524.14 C373.37,525.20 380.52,528.22 382.50,529.07 C384.48,529.92 380.53,528.74 382.90,529.23 C385.27,529.71 394.05,531.46 396.70,531.97 C399.35,532.48 396.45,532.08 398.80,532.29 C401.15,532.51 408.17,533.04 410.80,533.26 C413.43,533.47 412.23,533.17 414.60,533.57 C416.97,533.96 423.02,535.24 425.00,535.64 C426.98,536.04 424.27,535.43 426.50,535.98 C428.73,536.53 436.28,538.42 438.40,538.96 C440.52,539.50 437.22,538.62 439.20,539.21 C441.18,539.80 446.83,541.64 450.30,542.49 C453.77,543.34 457.35,543.83 460.00,544.32 C462.65,544.81 462.53,544.99 466.20,545.44 C469.87,545.88 476.72,546.54 482.00,546.97 C487.28,547.39 493.27,547.38 497.90,547.99 C502.53,548.60 505.17,549.77 509.80,550.61 C514.43,551.45 520.42,552.29 525.70,553.03 C530.98,553.77 536.22,554.54 541.50,555.05 C546.78,555.56 552.60,555.93 557.40,556.07 C562.20,556.22 564.13,555.75 570.30,555.89 C576.47,556.04 586.37,556.35 594.40,556.93 C602.43,557.51 609.23,558.62 618.50,559.36 C627.77,560.11 637.20,560.74 650.00,561.41 C662.80,562.08 680.18,562.77 695.30,563.37 C710.42,563.98 725.58,564.45 740.70,565.04 C755.82,565.62 770.90,566.31 786.00,566.90 C801.10,567.49 816.18,568.09 831.30,568.57 C846.42,569.04 869.08,569.54 876.70,569.73 C884.32,569.93 876.95,569.74 877.00,569.74" stroke="#9467bd" stroke-width="3.6" stroke-linecap="square"/>
<path d="M163.40,43.40 C164.30,46.40 167.53,57.11 168.80,61.42 C170.07,65.73 170.20,65.06 171.00,69.28 C171.80,73.50 173.00,82.00 173.60,86.73 C174.20,91.47 173.93,90.55 174.60,97.70 C175.27,104.85 176.57,119.78 177.60,129.65 C178.63,139.51 179.80,148.52 180.80,156.89 C181.80,165.27 182.48,170.63 183.60,179.91 C184.72,189.19 186.43,203.37 187.50,212.59 C188.57,221.80 188.68,222.10 190.00,235.20 C191.32,248.30 193.73,276.37 195.40,291.17 C197.07,305.97 199.15,318.02 200.00,323.99 C200.85,329.97 199.75,322.79 200.50,327.01 C201.25,331.22 203.30,342.60 204.50,349.28 C205.70,355.96 206.98,363.42 207.70,367.10 C208.42,370.78 208.22,368.87 208.80,371.39 C209.38,373.91 210.37,378.51 211.20,382.22 C212.03,385.94 213.20,391.08 213.80,393.68 C214.40,396.29 214.05,394.66 214.80,397.85 C215.55,401.03 217.47,409.26 218.30,412.80 C219.13,416.34 219.20,416.62 219.80,419.08 C220.40,421.53 221.08,424.78 221.90,427.53 C222.72,430.28 224.12,433.96 224.70,435.58 C225.28,437.20 224.57,435.87 225.40,437.28 C226.23,438.68 228.05,442.20 229.70,444.01 C231.35,445.81 234.13,447.34 235.30,448.11 C236.47,448.88 235.28,448.23 236.70,448.62 C238.12,449.02 242.13,450.03 243.80,450.47 C245.47,450.90 245.28,450.86 246.70,451.22 C248.12,451.58 250.42,451.99 252.30,452.63 C254.18,453.28 256.82,454.55 258.00,455.07 C259.18,455.58 257.98,454.78 259.40,455.72 C260.82,456.66 264.85,459.43 266.50,460.70 C268.15,461.96 268.12,462.15 269.30,463.29 C270.48,464.43 271.95,465.73 273.60,467.55 C275.25,469.38 278.02,472.81 279.20,474.24 C280.38,475.68 279.93,475.18 280.70,476.18 C281.47,477.18 282.38,478.54 283.80,480.24 C285.22,481.95 287.22,484.07 289.20,486.41 C291.18,488.75 293.98,492.44 295.70,494.27 C297.42,496.10 297.52,495.96 299.50,497.41 C301.48,498.86 306.18,502.03 307.60,502.98 C309.02,503.94 306.52,502.66 308.00,503.13 C309.48,503.61 314.58,505.25 316.50,505.84 C318.42,506.43 318.08,506.40 319.50,506.69 C320.92,506.97 322.37,507.20 325.00,507.55 C327.63,507.91 332.80,508.39 335.30,508.82 C337.80,509.26 338.02,509.55 340.00,510.14 C341.98,510.73 344.83,511.36 347.20,512.34 C349.57,513.33 352.22,514.99 354.20,516.05 C356.18,517.12 356.75,517.45 359.10,518.72 C361.45,519.99 366.32,522.59 368.30,523.67 C370.28,524.74 368.63,524.08 371.00,525.15 C373.37,526.21 380.52,529.22 382.50,530.06 C384.48,530.91 380.53,529.76 382.90,530.22 C385.27,530.68 394.05,532.36 396.70,532.85 C399.35,533.34 396.45,532.97 398.80,533.18 C401.15,533.38 408.17,533.87 410.80,534.07 C413.43,534.26 412.23,533.95 414.60,534.35 C416.97,534.75 423.02,536.06 425.00,536.47 C426.98,536.88 424.27,536.25 426.50,536.80 C428.73,537.36 436.28,539.25 438.40,539.79 C440.52,540.33 437.22,539.44 439.20,540.04 C441.18,540.64 446.83,542.55 450.30,543.41 C453.77,544.28 457.35,544.74 460.00,545.23 C462.65,545.72 462.53,545.92 466.20,546.35 C469.87,546.77 476.72,547.37 482.00,547.77 C487.28,548.18 493.27,548.19 497.90,548.79 C502.53,549.40 505.17,550.57 509.80,551.41 C514.43,552.24 520.42,553.08 525.70,553.82 C530.98,554.56 536.22,555.34 541.50,555.84 C546.78,556.35 552.60,556.72 557.40,556.86 C562.20,557.00 564.13,556.53 570.30,556.67 C576.47,556.82 586.37,557.13 594.40,557.70 C602.43,558.28 609.23,559.39 618.50,560.13 C627.77,560.87 637.20,561.50 650.00,562.17 C662.80,562.83 680.18,563.52 695.30,564.12 C710.42,564.72 725.58,565.19 740.70,565.77 C755.82,566.35 770.90,567.04 786.00,567.62 C801.10,568.21 816.18,568.81 831.30,569.27 C846.42,569.74 868.92,570.23 876.70,570.42 C884.48,570.62 877.78,570.46 878.00,570.47" stroke="#8c564b" stroke-width="3.6" stroke-linecap="square"/>
<path d="M163.40,43.40 C164.30,46.08 167.53,55.64 168.80,59.46 C170.07,63.29 170.20,62.34 171.00,66.35 C171.80,70.36 173.00,78.78 173.60,83.52 C174.20,88.27 173.93,87.39 174.60,94.82 C175.27,102.25 176.57,117.89 177.60,128.10 C178.63,138.30 179.80,147.40 180.80,156.04 C181.80,164.68 182.48,170.29 183.60,179.94 C184.72,189.59 186.43,204.44 187.50,213.91 C188.57,223.39 188.68,223.43 190.00,236.80 C191.32,250.17 193.73,279.16 195.40,294.11 C197.07,309.06 199.15,320.59 200.00,326.52 C200.85,332.44 199.75,325.28 200.50,329.67 C201.25,334.06 203.30,345.90 204.50,352.85 C205.70,359.81 206.98,367.58 207.70,371.40 C208.42,375.22 208.22,373.28 208.80,375.75 C209.38,378.22 210.37,382.63 211.20,386.22 C212.03,389.80 213.20,394.73 213.80,397.25 C214.40,399.77 214.05,398.20 214.80,401.33 C215.55,404.46 217.47,412.56 218.30,416.03 C219.13,419.51 219.20,419.76 219.80,422.19 C220.40,424.62 221.08,427.92 221.90,430.59 C222.72,433.26 224.12,436.67 224.70,438.22 C225.28,439.77 224.57,438.57 225.40,439.92 C226.23,441.26 228.05,444.56 229.70,446.27 C231.35,447.99 234.13,449.48 235.30,450.20 C236.47,450.93 235.28,450.29 236.70,450.63 C238.12,450.97 242.13,451.86 243.80,452.24 C245.47,452.62 245.28,452.59 246.70,452.91 C248.12,453.22 250.42,453.55 252.30,454.16 C254.18,454.76 256.82,456.03 258.00,456.53 C259.18,457.03 257.98,456.21 259.40,457.15 C260.82,458.08 264.85,460.86 266.50,462.13 C268.15,463.40 268.12,463.64 269.30,464.79 C270.48,465.95 271.95,467.22 273.60,469.07 C275.25,470.92 278.02,474.43 279.20,475.90 C280.38,477.37 279.93,476.86 280.70,477.88 C281.47,478.90 282.38,480.30 283.80,482.03 C285.22,483.76 287.22,485.91 289.20,488.24 C291.18,490.57 293.98,494.23 295.70,496.01 C297.42,497.80 297.52,497.54 299.50,498.95 C301.48,500.35 306.18,503.51 307.60,504.46 C309.02,505.40 306.52,504.15 308.00,504.59 C309.48,505.03 314.58,506.55 316.50,507.11 C318.42,507.66 318.08,507.67 319.50,507.92 C320.92,508.18 322.37,508.35 325.00,508.67 C327.63,508.98 332.80,509.40 335.30,509.82 C337.80,510.23 338.02,510.57 340.00,511.15 C341.98,511.74 344.83,512.33 347.20,513.33 C349.57,514.33 352.22,516.08 354.20,517.17 C356.18,518.27 356.75,518.61 359.10,519.91 C361.45,521.22 366.32,523.89 368.30,524.99 C370.28,526.09 368.63,525.43 371.00,526.50 C373.37,527.57 380.52,530.55 382.50,531.39 C384.48,532.23 380.53,531.11 382.90,531.55 C385.27,531.99 394.05,533.56 396.70,534.02 C399.35,534.49 396.45,534.16 398.80,534.35 C401.15,534.54 408.17,534.97 410.80,535.15 C413.43,535.32 412.23,535.00 414.60,535.40 C416.97,535.81 423.02,537.15 425.00,537.57 C426.98,537.99 424.27,537.35 426.50,537.90 C428.73,538.46 436.28,540.35 438.40,540.89 C440.52,541.43 437.22,540.52 439.20,541.15 C441.18,541.77 446.83,543.76 450.30,544.64 C453.77,545.52 457.35,545.95 460.00,546.44 C462.65,546.93 462.53,547.16 466.20,547.57 C469.87,547.97 476.72,548.47 482.00,548.85 C487.28,549.23 493.27,549.26 497.90,549.86 C502.53,550.46 505.17,551.63 509.80,552.47 C514.43,553.31 520.42,554.15 525.70,554.88 C530.98,555.62 536.22,556.39 541.50,556.89 C546.78,557.40 552.60,557.77 557.40,557.91 C562.20,558.04 564.13,557.58 570.30,557.72 C576.47,557.85 586.37,558.16 594.40,558.73 C602.43,559.31 609.23,560.41 618.50,561.15 C627.77,561.89 637.20,562.52 650.00,563.18 C662.80,563.84 680.18,564.52 695.30,565.11 C710.42,565.71 725.58,566.17 740.70,566.75 C755.82,567.32 770.90,568.00 786.00,568.58 C801.10,569.16 816.18,569.75 831.30,570.22 C846.42,570.68 868.58,571.14 876.70,571.35 C884.82,571.56 879.45,571.45 880.00,571.47" stroke="#e377c2" stroke-width="3.6" stroke-linecap="square"/>
<path d="M163.40,43.40 C164.30,45.75 167.53,54.17 168.80,57.51 C170.07,60.84 170.20,59.62 171.00,63.43 C171.80,67.23 173.00,75.56 173.60,80.31 C174.20,85.07 173.93,84.24 174.60,91.95 C175.27,99.66 176.57,116.01 177.60,126.55 C178.63,137.09 179.80,146.28 180.80,155.19 C181.80,164.09 182.48,169.96 183.60,179.97 C184.72,189.98 186.43,205.50 187.50,215.24 C188.57,224.98 188.68,224.76 190.00,238.40 C191.32,252.04 193.73,281.95 195.40,297.06 C197.07,312.16 199.15,323.16 200.00,329.04 C200.85,334.92 199.75,327.77 200.50,332.34 C201.25,336.90 203.30,349.20 204.50,356.43 C205.70,363.65 206.98,371.75 207.70,375.70 C208.42,379.65 208.22,377.69 208.80,380.11 C209.38,382.52 210.37,386.76 211.20,390.21 C212.03,393.66 213.20,398.38 213.80,400.82 C214.40,403.25 214.05,401.74 214.80,404.82 C215.55,407.89 217.47,415.85 218.30,419.27 C219.13,422.68 219.20,422.91 219.80,425.30 C220.40,427.70 221.08,431.05 221.90,433.64 C222.72,436.24 224.12,439.37 224.70,440.86 C225.28,442.35 224.57,441.28 225.40,442.56 C226.23,443.84 228.05,446.91 229.70,448.54 C231.35,450.16 234.13,451.62 235.30,452.30 C236.47,452.98 235.28,452.34 236.70,452.63 C238.12,452.91 242.13,453.69 243.80,454.02 C245.47,454.35 245.28,454.32 246.70,454.59 C248.12,454.87 250.42,455.11 252.30,455.68 C254.18,456.24 256.82,457.51 258.00,457.99 C259.18,458.47 257.98,457.64 259.40,458.57 C260.82,459.50 264.85,462.28 266.50,463.57 C268.15,464.85 268.12,465.13 269.30,466.30 C270.48,467.47 271.95,468.71 273.60,470.58 C275.25,472.46 278.02,476.05 279.20,477.55 C280.38,479.05 279.93,478.54 280.70,479.58 C281.47,480.63 282.38,482.07 283.80,483.81 C285.22,485.56 287.22,487.75 289.20,490.07 C291.18,492.40 293.98,496.02 295.70,497.76 C297.42,499.49 297.52,499.12 299.50,500.48 C301.48,501.85 306.18,505.00 307.60,505.93 C309.02,506.85 306.52,505.64 308.00,506.04 C309.48,506.45 314.58,507.86 316.50,508.38 C318.42,508.90 318.08,508.93 319.50,509.16 C320.92,509.40 322.37,509.50 325.00,509.78 C327.63,510.05 332.80,510.41 335.30,510.81 C337.80,511.21 338.02,511.58 340.00,512.17 C341.98,512.75 344.83,513.29 347.20,514.31 C349.57,515.34 352.22,517.16 354.20,518.30 C356.18,519.43 356.75,519.77 359.10,521.11 C361.45,522.44 366.32,525.19 368.30,526.31 C370.28,527.44 368.63,526.78 371.00,527.85 C373.37,528.92 380.52,531.87 382.50,532.71 C384.48,533.55 380.53,532.46 382.90,532.87 C385.27,533.29 394.05,534.75 396.70,535.20 C399.35,535.64 396.45,535.35 398.80,535.53 C401.15,535.70 408.17,536.07 410.80,536.23 C413.43,536.38 412.23,536.04 414.60,536.45 C416.97,536.86 423.02,538.25 425.00,538.67 C426.98,539.10 424.27,538.45 426.50,539.00 C428.73,539.56 436.28,541.45 438.40,542.00 C440.52,542.54 437.22,541.61 439.20,542.26 C441.18,542.91 446.83,544.97 450.30,545.87 C453.77,546.77 457.35,547.17 460.00,547.66 C462.65,548.14 462.53,548.40 466.20,548.78 C469.87,549.16 476.72,549.57 482.00,549.92 C487.28,550.28 493.27,550.33 497.90,550.93 C502.53,551.53 505.17,552.70 509.80,553.54 C514.43,554.37 520.42,555.21 525.70,555.94 C530.98,556.68 536.22,557.45 541.50,557.95 C546.78,558.45 552.60,558.82 557.40,558.95 C562.20,559.09 564.13,558.62 570.30,558.76 C576.47,558.89 586.37,559.20 594.40,559.77 C602.43,560.34 609.23,561.44 618.50,562.18 C627.77,562.91 637.20,563.53 650.00,564.19 C662.80,564.84 680.18,565.52 695.30,566.11 C710.42,566.69 725.58,567.15 740.70,567.72 C755.82,568.30 770.90,568.97 786.00,569.54 C801.10,570.11 816.18,570.70 831.30,571.16 C846.42,571.61 867.92,572.05 876.70,572.27 C885.48,572.50 882.78,572.49 884.00,572.53" stroke="#7f7f7f" stroke-width="3.6" stroke-linecap="square"/>
<path d="M163.40,43.40 C164.30,45.59 167.53,53.43 168.80,56.53 C170.07,59.62 170.20,58.27 171.00,61.96 C171.80,65.66 173.00,73.95 173.60,78.71 C174.20,83.46 173.93,82.67 174.60,90.51 C175.27,98.36 176.57,115.07 177.60,125.77 C178.63,136.48 179.80,145.72 180.80,154.76 C181.80,163.80 182.48,169.80 183.60,179.99 C184.72,190.18 186.43,206.03 187.50,215.90 C188.57,225.77 188.68,225.43 190.00,239.20 C191.32,252.97 193.73,283.34 195.40,298.53 C197.07,313.71 199.15,324.45 200.00,330.31 C200.85,336.16 199.75,329.02 200.50,333.67 C201.25,338.32 203.30,350.85 204.50,358.21 C205.70,365.58 206.98,373.84 207.70,377.85 C208.42,381.86 208.22,379.89 208.80,382.28 C209.38,384.68 210.37,388.82 211.20,392.20 C212.03,395.59 213.20,400.21 213.80,402.60 C214.40,404.99 214.05,403.51 214.80,406.56 C215.55,409.61 217.47,417.50 218.30,420.88 C219.13,424.27 219.20,424.48 219.80,426.86 C220.40,429.24 221.08,432.62 221.90,435.17 C222.72,437.73 224.12,440.73 224.70,442.18 C225.28,443.63 224.57,442.63 225.40,443.88 C226.23,445.13 228.05,448.09 229.70,449.67 C231.35,451.25 234.13,452.69 235.30,453.35 C236.47,454.01 235.28,453.37 236.70,453.63 C238.12,453.89 242.13,454.61 243.80,454.91 C245.47,455.21 245.28,455.18 246.70,455.43 C248.12,455.69 250.42,455.89 252.30,456.44 C254.18,456.99 256.82,458.24 258.00,458.72 C259.18,459.19 257.98,458.36 259.40,459.29 C260.82,460.21 264.85,462.99 266.50,464.28 C268.15,465.58 268.12,465.87 269.30,467.05 C270.48,468.22 271.95,469.45 273.60,471.34 C275.25,473.23 278.02,476.86 279.20,478.37 C280.38,479.89 279.93,479.38 280.70,480.44 C281.47,481.49 282.38,482.95 283.80,484.71 C285.22,486.47 287.22,488.67 289.20,490.99 C291.18,493.31 293.98,496.92 295.70,498.63 C297.42,500.34 297.52,499.91 299.50,501.25 C301.48,502.59 306.18,505.74 307.60,506.66 C309.02,507.58 306.52,506.38 308.00,506.77 C309.48,507.16 314.58,508.51 316.50,509.01 C318.42,509.51 318.08,509.56 319.50,509.78 C320.92,510.00 322.37,510.08 325.00,510.33 C327.63,510.59 332.80,510.91 335.30,511.30 C337.80,511.69 338.02,512.09 340.00,512.68 C341.98,513.26 344.83,513.78 347.20,514.81 C349.57,515.84 352.22,517.71 354.20,518.86 C356.18,520.01 356.75,520.35 359.10,521.70 C361.45,523.06 366.32,525.84 368.30,526.97 C370.28,528.11 368.63,527.46 371.00,528.52 C373.37,529.59 380.52,532.54 382.50,533.37 C384.48,534.21 380.53,533.13 382.90,533.54 C385.27,533.94 394.05,535.35 396.70,535.78 C399.35,536.21 396.45,535.95 398.80,536.11 C401.15,536.28 408.17,536.62 410.80,536.77 C413.43,536.91 412.23,536.57 414.60,536.98 C416.97,537.38 423.02,538.79 425.00,539.22 C426.98,539.65 424.27,539.00 426.50,539.55 C428.73,540.11 436.28,542.00 438.40,542.55 C440.52,543.09 437.22,542.16 439.20,542.81 C441.18,543.47 446.83,545.58 450.30,546.49 C453.77,547.39 457.35,547.78 460.00,548.26 C462.65,548.75 462.53,549.02 466.20,549.39 C469.87,549.76 476.72,550.12 482.00,550.46 C487.28,550.81 493.27,550.86 497.90,551.47 C502.53,552.07 505.17,553.23 509.80,554.07 C514.43,554.90 520.42,555.74 525.70,556.47 C530.98,557.20 536.22,557.97 541.50,558.47 C546.78,558.97 552.60,559.34 557.40,559.48 C562.20,559.61 564.13,559.14 570.30,559.28 C576.47,559.41 586.37,559.72 594.40,560.28 C602.43,560.85 609.23,561.95 618.50,562.69 C627.77,563.42 637.20,564.04 650.00,564.69 C662.80,565.35 680.18,566.02 695.30,566.60 C710.42,567.19 725.58,567.64 740.70,568.21 C755.82,568.78 770.90,569.45 786.00,570.02 C801.10,570.59 816.18,571.18 831.30,571.63 C846.42,572.08 867.42,572.49 876.70,572.74 C885.98,572.98 885.28,573.04 887.00,573.09" stroke="#bcbd22" stroke-width="3.6" stroke-linecap="square"/>
<path d="M163.40,43.40 C164.67,46.25 169.30,54.88 171.00,60.50 C172.70,66.12 172.50,66.35 173.60,77.10 C174.70,87.85 175.93,107.85 177.60,125.00 C179.27,142.15 181.53,160.83 183.60,180.00 C185.67,199.17 188.03,220.00 190.00,240.00 C191.97,260.00 193.65,284.17 195.40,300.00 C197.15,315.83 198.98,325.00 200.50,335.00 C202.02,345.00 203.30,352.50 204.50,360.00 C205.70,367.50 206.58,374.30 207.70,380.00 C208.82,385.70 210.02,389.48 211.20,394.20 C212.38,398.92 213.62,403.58 214.80,408.30 C215.98,413.02 217.12,417.77 218.30,422.50 C219.48,427.23 220.72,432.92 221.90,436.70 C223.08,440.48 224.10,442.85 225.40,445.20 C226.70,447.55 228.05,449.27 229.70,450.80 C231.35,452.33 232.95,453.57 235.30,454.40 C237.65,455.23 240.97,455.33 243.80,455.80 C246.63,456.27 249.70,456.50 252.30,457.20 C254.90,457.90 257.03,458.70 259.40,460.00 C261.77,461.30 264.13,462.98 266.50,465.00 C268.87,467.02 271.48,469.73 273.60,472.10 C275.72,474.47 277.50,476.95 279.20,479.20 C280.90,481.45 281.05,482.22 283.80,485.60 C286.55,488.98 291.73,495.87 295.70,499.50 C299.67,503.13 303.63,505.58 307.60,507.40 C311.57,509.22 314.88,509.67 319.50,510.40 C324.12,511.13 330.68,510.98 335.30,511.80 C339.92,512.62 343.23,513.55 347.20,515.30 C351.17,517.05 355.13,519.98 359.10,522.30 C363.07,524.62 367.03,527.22 371.00,529.20 C374.97,531.18 378.27,532.95 382.90,534.20 C387.53,535.45 393.52,536.15 398.80,536.70 C404.08,537.25 409.98,536.93 414.60,537.50 C419.22,538.07 422.53,539.17 426.50,540.10 C430.47,541.03 434.43,541.93 438.40,543.10 C442.37,544.27 445.67,545.95 450.30,547.10 C454.93,548.25 460.92,549.35 466.20,550.00 C471.48,550.65 476.72,550.67 482.00,551.00 C487.28,551.33 493.27,551.40 497.90,552.00 C502.53,552.60 505.17,553.77 509.80,554.60 C514.43,555.43 520.42,556.27 525.70,557.00 C530.98,557.73 536.22,558.50 541.50,559.00 C546.78,559.50 552.60,559.87 557.40,560.00 C562.20,560.13 564.13,559.67 570.30,559.80 C576.47,559.93 586.37,560.23 594.40,560.80 C602.43,561.37 609.23,562.47 618.50,563.20 C627.77,563.93 637.20,564.55 650.00,565.20 C662.80,565.85 680.18,566.52 695.30,567.10 C710.42,567.68 725.58,568.13 740.70,568.70 C755.82,569.27 770.90,569.93 786.00,570.50 C801.10,571.07 816.18,571.65 831.30,572.10 C846.42,572.55 867.20,572.95 876.70,573.20 C886.20,573.45 886.37,573.53 888.30,573.60" stroke="#000" stroke-width="4.4" stroke-linecap="square"/>
</g>
<path d="M127.5,17.8 H925 M925,17.8 V600.5 M127.5,17.3 V601 M127,600.5 H925.5" fill="none" stroke="#111" stroke-width="1.05"/>
<rect x="366.7" y="69.4" width="478.3" height="326.7" rx="4" fill="#fff" fill-opacity="0.85" stroke="#d0d0d0" stroke-width="1.1"/>
<line x1="375.2" y1="87.5" x2="418.3" y2="87.5" stroke="#1f77b4" stroke-width="3.8" stroke-dasharray="12.8 6.2"/>
<text y="92.1" font-family="'Liberation Serif', 'DejaVu Serif', serif" font-size="21"><tspan x="436.1" textLength="14.6" lengthAdjust="spacingAndGlyphs">Δ</tspan><tspan x="451.5" font-style="italic" textLength="7.6" lengthAdjust="spacingAndGlyphs">t</tspan><tspan x="458.0" font-size="31" dy="6.3">/</tspan><tspan x="470.8" dy="-6.3" textLength="14.4" lengthAdjust="spacingAndGlyphs">Δ</tspan><tspan x="486.0" font-style="italic" textLength="7.6" lengthAdjust="spacingAndGlyphs">t</tspan><tspan x="494.0" font-style="italic" font-size="15" dy="3.2" textLength="13" lengthAdjust="spacingAndGlyphs">th</tspan><tspan x="513.8" dy="-0.4" font-size="27">=</tspan></text>
<text x="536.6" y="92.1" font-family="'Liberation Sans', 'DejaVu Sans', sans-serif" font-size="19.3" textLength="35.1" lengthAdjust="spacingAndGlyphs">3.33</text>
<line x1="375.2" y1="119.5" x2="418.3" y2="119.5" stroke="#ff7f0e" stroke-width="3.8" stroke-dasharray="12.8 6.2"/>
<text y="124.0" font-family="'Liberation Serif', 'DejaVu Serif', serif" font-size="21"><tspan x="436.1" textLength="14.6" lengthAdjust="spacingAndGlyphs">Δ</tspan><tspan x="451.5" font-style="italic" textLength="7.6" lengthAdjust="spacingAndGlyphs">t</tspan><tspan x="458.0" font-size="31" dy="6.3">/</tspan><tspan x="470.8" dy="-6.3" textLength="14.4" lengthAdjust="spacingAndGlyphs">Δ</tspan><tspan x="486.0" font-style="italic" textLength="7.6" lengthAdjust="spacingAndGlyphs">t</tspan><tspan x="494.0" font-style="italic" font-size="15" dy="3.2" textLength="13" lengthAdjust="spacingAndGlyphs">th</tspan><tspan x="513.8" dy="-0.4" font-size="27">=</tspan></text>
<text x="536.6" y="124.0" font-family="'Liberation Sans', 'DejaVu Sans', sans-serif" font-size="19.3" textLength="35.1" lengthAdjust="spacingAndGlyphs">2.50</text>
<line x1="375.2" y1="151.4" x2="418.3" y2="151.4" stroke="#2ca02c" stroke-width="3.8" stroke-dasharray="12.8 6.2"/>
<text y="156.0" font-family="'Liberation Serif', 'DejaVu Serif', serif" font-size="21"><tspan x="436.1" textLength="14.6" lengthAdjust="spacingAndGlyphs">Δ</tspan><tspan x="451.5" font-style="italic" textLength="7.6" lengthAdjust="spacingAndGlyphs">t</tspan><tspan x="458.0" font-size="31" dy="6.3">/</tspan><tspan x="470.8" dy="-6.3" textLength="14.4" lengthAdjust="spacingAndGlyphs">Δ</tspan><tspan x="486.0" font-style="italic" textLength="7.6" lengthAdjust="spacingAndGlyphs">t</tspan><tspan x="494.0" font-style="italic" font-size="15" dy="3.2" textLength="13" lengthAdjust="spacingAndGlyphs">th</tspan><tspan x="513.8" dy="-0.4" font-size="27">=</tspan></text>
<text x="536.6" y="156.0" font-family="'Liberation Sans', 'DejaVu Sans', sans-serif" font-size="19.3" textLength="35.1" lengthAdjust="spacingAndGlyphs">2.00</text>
<line x1="375.2" y1="183.3" x2="418.3" y2="183.3" stroke="#d62728" stroke-width="3.8" stroke-dasharray="12.8 6.2"/>
<text y="187.9" font-family="'Liberation Serif', 'DejaVu Serif', serif" font-size="21"><tspan x="436.1" textLength="14.6" lengthAdjust="spacingAndGlyphs">Δ</tspan><tspan x="451.5" font-style="italic" textLength="7.6" lengthAdjust="spacingAndGlyphs">t</tspan><tspan x="458.0" font-size="31" dy="6.3">/</tspan><tspan x="470.8" dy="-6.3" textLength="14.4" lengthAdjust="spacingAndGlyphs">Δ</tspan><tspan x="486.0" font-style="italic" textLength="7.6" lengthAdjust="spacingAndGlyphs">t</tspan><tspan x="494.0" font-style="italic" font-size="15" dy="3.2" textLength="13" lengthAdjust="spacingAndGlyphs">th</tspan><tspan x="513.8" dy="-0.4" font-size="27">=</tspan></text>
<text x="536.6" y="187.9" font-family="'Liberation Sans', 'DejaVu Sans', sans-serif" font-size="19.3" textLength="35.1" lengthAdjust="spacingAndGlyphs">1.67</text>
<line x1="375.2" y1="215.3" x2="418.3" y2="215.3" stroke="#9467bd" stroke-width="3.8" stroke-dasharray="12.8 6.2"/>
<text y="219.9" font-family="'Liberation Serif', 'DejaVu Serif', serif" font-size="21"><tspan x="436.1" textLength="14.6" lengthAdjust="spacingAndGlyphs">Δ</tspan><tspan x="451.5" font-style="italic" textLength="7.6" lengthAdjust="spacingAndGlyphs">t</tspan><tspan x="458.0" font-size="31" dy="6.3">/</tspan><tspan x="470.8" dy="-6.3" textLength="14.4" lengthAdjust="spacingAndGlyphs">Δ</tspan><tspan x="486.0" font-style="italic" textLength="7.6" lengthAdjust="spacingAndGlyphs">t</tspan><tspan x="494.0" font-style="italic" font-size="15" dy="3.2" textLength="13" lengthAdjust="spacingAndGlyphs">th</tspan><tspan x="513.8" dy="-0.4" font-size="27">=</tspan></text>
<text x="536.6" y="219.9" font-family="'Liberation Sans', 'DejaVu Sans', sans-serif" font-size="19.3" textLength="35.1" lengthAdjust="spacingAndGlyphs">1.43</text>
<line x1="375.2" y1="247.2" x2="418.3" y2="247.2" stroke="#8c564b" stroke-width="3.8" stroke-dasharray="12.8 6.2"/>
<text y="251.8" font-family="'Liberation Serif', 'DejaVu Serif', serif" font-size="21"><tspan x="436.1" textLength="14.6" lengthAdjust="spacingAndGlyphs">Δ</tspan><tspan x="451.5" font-style="italic" textLength="7.6" lengthAdjust="spacingAndGlyphs">t</tspan><tspan x="458.0" font-size="31" dy="6.3">/</tspan><tspan x="470.8" dy="-6.3" textLength="14.4" lengthAdjust="spacingAndGlyphs">Δ</tspan><tspan x="486.0" font-style="italic" textLength="7.6" lengthAdjust="spacingAndGlyphs">t</tspan><tspan x="494.0" font-style="italic" font-size="15" dy="3.2" textLength="13" lengthAdjust="spacingAndGlyphs">th</tspan><tspan x="513.8" dy="-0.4" font-size="27">=</tspan></text>
<text x="536.6" y="251.8" font-family="'Liberation Sans', 'DejaVu Sans', sans-serif" font-size="19.3" textLength="35.1" lengthAdjust="spacingAndGlyphs">1.25</text>
<line x1="375.2" y1="279.2" x2="418.3" y2="279.2" stroke="#e377c2" stroke-width="3.8" stroke-dasharray="12.8 6.2"/>
<text y="283.8" font-family="'Liberation Serif', 'DejaVu Serif', serif" font-size="21"><tspan x="436.1" textLength="14.6" lengthAdjust="spacingAndGlyphs">Δ</tspan><tspan x="451.5" font-style="italic" textLength="7.6" lengthAdjust="spacingAndGlyphs">t</tspan><tspan x="458.0" font-size="31" dy="6.3">/</tspan><tspan x="470.8" dy="-6.3" textLength="14.4" lengthAdjust="spacingAndGlyphs">Δ</tspan><tspan x="486.0" font-style="italic" textLength="7.6" lengthAdjust="spacingAndGlyphs">t</tspan><tspan x="494.0" font-style="italic" font-size="15" dy="3.2" textLength="13" lengthAdjust="spacingAndGlyphs">th</tspan><tspan x="513.8" dy="-0.4" font-size="27">=</tspan></text>
<text x="536.6" y="283.8" font-family="'Liberation Sans', 'DejaVu Sans', sans-serif" font-size="19.3" textLength="35.1" lengthAdjust="spacingAndGlyphs">1.00</text>
<line x1="375.2" y1="311.1" x2="418.3" y2="311.1" stroke="#7f7f7f" stroke-width="3.8" stroke-linecap="square"/>
<text y="315.8" font-family="'Liberation Serif', 'DejaVu Serif', serif" font-size="21"><tspan x="436.1" textLength="14.6" lengthAdjust="spacingAndGlyphs">Δ</tspan><tspan x="451.5" font-style="italic" textLength="7.6" lengthAdjust="spacingAndGlyphs">t</tspan><tspan x="458.0" font-size="31" dy="6.3">/</tspan><tspan x="470.8" dy="-6.3" textLength="14.4" lengthAdjust="spacingAndGlyphs">Δ</tspan><tspan x="486.0" font-style="italic" textLength="7.6" lengthAdjust="spacingAndGlyphs">t</tspan><tspan x="494.0" font-style="italic" font-size="15" dy="3.2" textLength="13" lengthAdjust="spacingAndGlyphs">th</tspan><tspan x="513.8" dy="-0.4" font-size="27">=</tspan></text>
<text x="536.6" y="315.8" font-family="'Liberation Sans', 'DejaVu Sans', sans-serif" font-size="19.3" textLength="35.1" lengthAdjust="spacingAndGlyphs">0.91</text>
<line x1="375.2" y1="343.1" x2="418.3" y2="343.1" stroke="#bcbd22" stroke-width="3.8" stroke-linecap="square"/>
<text y="347.7" font-family="'Liberation Serif', 'DejaVu Serif', serif" font-size="21"><tspan x="436.1" textLength="14.6" lengthAdjust="spacingAndGlyphs">Δ</tspan><tspan x="451.5" font-style="italic" textLength="7.6" lengthAdjust="spacingAndGlyphs">t</tspan><tspan x="458.0" font-size="31" dy="6.3">/</tspan><tspan x="470.8" dy="-6.3" textLength="14.4" lengthAdjust="spacingAndGlyphs">Δ</tspan><tspan x="486.0" font-style="italic" textLength="7.6" lengthAdjust="spacingAndGlyphs">t</tspan><tspan x="494.0" font-style="italic" font-size="15" dy="3.2" textLength="13" lengthAdjust="spacingAndGlyphs">th</tspan><tspan x="513.8" dy="-0.4" font-size="27">=</tspan></text>
<text x="536.6" y="347.7" font-family="'Liberation Sans', 'DejaVu Sans', sans-serif" font-size="19.3" textLength="35.1" lengthAdjust="spacingAndGlyphs">0.83</text>
<line x1="375.2" y1="375.1" x2="418.3" y2="375.1" stroke="#17becf" stroke-width="3.8" stroke-linecap="square"/>
<text y="379.7" font-family="'Liberation Serif', 'DejaVu Serif', serif" font-size="21"><tspan x="436.1" textLength="14.6" lengthAdjust="spacingAndGlyphs">Δ</tspan><tspan x="451.5" font-style="italic" textLength="7.6" lengthAdjust="spacingAndGlyphs">t</tspan><tspan x="458.0" font-size="31" dy="6.3">/</tspan><tspan x="470.8" dy="-6.3" textLength="14.4" lengthAdjust="spacingAndGlyphs">Δ</tspan><tspan x="486.0" font-style="italic" textLength="7.6" lengthAdjust="spacingAndGlyphs">t</tspan><tspan x="494.0" font-style="italic" font-size="15" dy="3.2" textLength="13" lengthAdjust="spacingAndGlyphs">th</tspan><tspan x="513.8" dy="-0.4" font-size="27">=</tspan></text>
<text x="536.6" y="379.7" font-family="'Liberation Sans', 'DejaVu Sans', sans-serif" font-size="19.3" textLength="35.1" lengthAdjust="spacingAndGlyphs">0.77</text>
<line x1="637.2" y1="87.5" x2="683.8" y2="87.5" stroke="#1f77b4" stroke-width="3.8" stroke-linecap="square"/>
<text y="92.1" font-family="'Liberation Serif', 'DejaVu Serif', serif" font-size="21"><tspan x="700.5" textLength="14.6" lengthAdjust="spacingAndGlyphs">Δ</tspan><tspan x="715.9" font-style="italic" textLength="7.6" lengthAdjust="spacingAndGlyphs">t</tspan><tspan x="722.4" font-size="31" dy="6.3">/</tspan><tspan x="735.2" dy="-6.3" textLength="14.4" lengthAdjust="spacingAndGlyphs">Δ</tspan><tspan x="750.4" font-style="italic" textLength="7.6" lengthAdjust="spacingAndGlyphs">t</tspan><tspan x="758.4" font-style="italic" font-size="15" dy="3.2" textLength="13" lengthAdjust="spacingAndGlyphs">th</tspan><tspan x="778.2" dy="-0.4" font-size="27">=</tspan></text>
<text x="801.0" y="92.1" font-family="'Liberation Sans', 'DejaVu Sans', sans-serif" font-size="19.3" textLength="35.1" lengthAdjust="spacingAndGlyphs">0.71</text>
<line x1="637.2" y1="119.5" x2="683.8" y2="119.5" stroke="#ff7f0e" stroke-width="3.8" stroke-linecap="square"/>
<text y="124.0" font-family="'Liberation Serif', 'DejaVu Serif', serif" font-size="21"><tspan x="700.5" textLength="14.6" lengthAdjust="spacingAndGlyphs">Δ</tspan><tspan x="715.9" font-style="italic" textLength="7.6" lengthAdjust="spacingAndGlyphs">t</tspan><tspan x="722.4" font-size="31" dy="6.3">/</tspan><tspan x="735.2" dy="-6.3" textLength="14.4" lengthAdjust="spacingAndGlyphs">Δ</tspan><tspan x="750.4" font-style="italic" textLength="7.6" lengthAdjust="spacingAndGlyphs">t</tspan><tspan x="758.4" font-style="italic" font-size="15" dy="3.2" textLength="13" lengthAdjust="spacingAndGlyphs">th</tspan><tspan x="778.2" dy="-0.4" font-size="27">=</tspan></text>
<text x="801.0" y="124.0" font-family="'Liberation Sans', 'DejaVu Sans', sans-serif" font-size="19.3" textLength="35.1" lengthAdjust="spacingAndGlyphs">0.67</text>
<line x1="637.2" y1="151.4" x2="683.8" y2="151.4" stroke="#2ca02c" stroke-width="3.8" stroke-linecap="square"/>
<text y="156.0" font-family="'Liberation Serif', 'DejaVu Serif', serif" font-size="21"><tspan x="700.5" textLength="14.6" lengthAdjust="spacingAndGlyphs">Δ</tspan><tspan x="715.9" font-style="italic" textLength="7.6" lengthAdjust="spacingAndGlyphs">t</tspan><tspan x="722.4" font-size="31" dy="6.3">/</tspan><tspan x="735.2" dy="-6.3" textLength="14.4" lengthAdjust="spacingAndGlyphs">Δ</tspan><tspan x="750.4" font-style="italic" textLength="7.6" lengthAdjust="spacingAndGlyphs">t</tspan><tspan x="758.4" font-style="italic" font-size="15" dy="3.2" textLength="13" lengthAdjust="spacingAndGlyphs">th</tspan><tspan x="778.2" dy="-0.4" font-size="27">=</tspan></text>
<text x="801.0" y="156.0" font-family="'Liberation Sans', 'DejaVu Sans', sans-serif" font-size="19.3" textLength="35.1" lengthAdjust="spacingAndGlyphs">0.62</text>
<line x1="637.2" y1="183.3" x2="683.8" y2="183.3" stroke="#d62728" stroke-width="3.8" stroke-linecap="square"/>
<text y="187.9" font-family="'Liberation Serif', 'DejaVu Serif', serif" font-size="21"><tspan x="700.5" textLength="14.6" lengthAdjust="spacingAndGlyphs">Δ</tspan><tspan x="715.9" font-style="italic" textLength="7.6" lengthAdjust="spacingAndGlyphs">t</tspan><tspan x="722.4" font-size="31" dy="6.3">/</tspan><tspan x="735.2" dy="-6.3" textLength="14.4" lengthAdjust="spacingAndGlyphs">Δ</tspan><tspan x="750.4" font-style="italic" textLength="7.6" lengthAdjust="spacingAndGlyphs">t</tspan><tspan x="758.4" font-style="italic" font-size="15" dy="3.2" textLength="13" lengthAdjust="spacingAndGlyphs">th</tspan><tspan x="778.2" dy="-0.4" font-size="27">=</tspan></text>
<text x="801.0" y="187.9" font-family="'Liberation Sans', 'DejaVu Sans', sans-serif" font-size="19.3" textLength="35.1" lengthAdjust="spacingAndGlyphs">0.59</text>
<line x1="637.2" y1="215.3" x2="683.8" y2="215.3" stroke="#9467bd" stroke-width="3.8" stroke-linecap="square"/>
<text y="219.9" font-family="'Liberation Serif', 'DejaVu Serif', serif" font-size="21"><tspan x="700.5" textLength="14.6" lengthAdjust="spacingAndGlyphs">Δ</tspan><tspan x="715.9" font-style="italic" textLength="7.6" lengthAdjust="spacingAndGlyphs">t</tspan><tspan x="722.4" font-size="31" dy="6.3">/</tspan><tspan x="735.2" dy="-6.3" textLength="14.4" lengthAdjust="spacingAndGlyphs">Δ</tspan><tspan x="750.4" font-style="italic" textLength="7.6" lengthAdjust="spacingAndGlyphs">t</tspan><tspan x="758.4" font-style="italic" font-size="15" dy="3.2" textLength="13" lengthAdjust="spacingAndGlyphs">th</tspan><tspan x="778.2" dy="-0.4" font-size="27">=</tspan></text>
<text x="801.0" y="219.9" font-family="'Liberation Sans', 'DejaVu Sans', sans-serif" font-size="19.3" textLength="35.1" lengthAdjust="spacingAndGlyphs">0.56</text>
<line x1="637.2" y1="247.2" x2="683.8" y2="247.2" stroke="#8c564b" stroke-width="3.8" stroke-linecap="square"/>
<text y="251.8" font-family="'Liberation Serif', 'DejaVu Serif', serif" font-size="21"><tspan x="700.5" textLength="14.6" lengthAdjust="spacingAndGlyphs">Δ</tspan><tspan x="715.9" font-style="italic" textLength="7.6" lengthAdjust="spacingAndGlyphs">t</tspan><tspan x="722.4" font-size="31" dy="6.3">/</tspan><tspan x="735.2" dy="-6.3" textLength="14.4" lengthAdjust="spacingAndGlyphs">Δ</tspan><tspan x="750.4" font-style="italic" textLength="7.6" lengthAdjust="spacingAndGlyphs">t</tspan><tspan x="758.4" font-style="italic" font-size="15" dy="3.2" textLength="13" lengthAdjust="spacingAndGlyphs">th</tspan><tspan x="778.2" dy="-0.4" font-size="27">=</tspan></text>
<text x="801.0" y="251.8" font-family="'Liberation Sans', 'DejaVu Sans', sans-serif" font-size="19.3" textLength="35.1" lengthAdjust="spacingAndGlyphs">0.50</text>
<line x1="637.2" y1="279.2" x2="683.8" y2="279.2" stroke="#e377c2" stroke-width="3.8" stroke-linecap="square"/>
<text y="283.8" font-family="'Liberation Serif', 'DejaVu Serif', serif" font-size="21"><tspan x="700.5" textLength="14.6" lengthAdjust="spacingAndGlyphs">Δ</tspan><tspan x="715.9" font-style="italic" textLength="7.6" lengthAdjust="spacingAndGlyphs">t</tspan><tspan x="722.4" font-size="31" dy="6.3">/</tspan><tspan x="735.2" dy="-6.3" textLength="14.4" lengthAdjust="spacingAndGlyphs">Δ</tspan><tspan x="750.4" font-style="italic" textLength="7.6" lengthAdjust="spacingAndGlyphs">t</tspan><tspan x="758.4" font-style="italic" font-size="15" dy="3.2" textLength="13" lengthAdjust="spacingAndGlyphs">th</tspan><tspan x="778.2" dy="-0.4" font-size="27">=</tspan></text>
<text x="801.0" y="283.8" font-family="'Liberation Sans', 'DejaVu Sans', sans-serif" font-size="19.3" textLength="35.1" lengthAdjust="spacingAndGlyphs">0.45</text>
<line x1="637.2" y1="311.1" x2="683.8" y2="311.1" stroke="#7f7f7f" stroke-width="3.8" stroke-linecap="square"/>
<text y="315.8" font-family="'Liberation Serif', 'DejaVu Serif', serif" font-size="21"><tspan x="700.5" textLength="14.6" lengthAdjust="spacingAndGlyphs">Δ</tspan><tspan x="715.9" font-style="italic" textLength="7.6" lengthAdjust="spacingAndGlyphs">t</tspan><tspan x="722.4" font-size="31" dy="6.3">/</tspan><tspan x="735.2" dy="-6.3" textLength="14.4" lengthAdjust="spacingAndGlyphs">Δ</tspan><tspan x="750.4" font-style="italic" textLength="7.6" lengthAdjust="spacingAndGlyphs">t</tspan><tspan x="758.4" font-style="italic" font-size="15" dy="3.2" textLength="13" lengthAdjust="spacingAndGlyphs">th</tspan><tspan x="778.2" dy="-0.4" font-size="27">=</tspan></text>
<text x="801.0" y="315.8" font-family="'Liberation Sans', 'DejaVu Sans', sans-serif" font-size="19.3" textLength="35.1" lengthAdjust="spacingAndGlyphs">0.33</text>
<line x1="637.2" y1="343.1" x2="683.8" y2="343.1" stroke="#bcbd22" stroke-width="3.8" stroke-linecap="square"/>
<text y="347.7" font-family="'Liberation Serif', 'DejaVu Serif', serif" font-size="21"><tspan x="700.5" textLength="14.6" lengthAdjust="spacingAndGlyphs">Δ</tspan><tspan x="715.9" font-style="italic" textLength="7.6" lengthAdjust="spacingAndGlyphs">t</tspan><tspan x="722.4" font-size="31" dy="6.3">/</tspan><tspan x="735.2" dy="-6.3" textLength="14.4" lengthAdjust="spacingAndGlyphs">Δ</tspan><tspan x="750.4" font-style="italic" textLength="7.6" lengthAdjust="spacingAndGlyphs">t</tspan><tspan x="758.4" font-style="italic" font-size="15" dy="3.2" textLength="13" lengthAdjust="spacingAndGlyphs">th</tspan><tspan x="778.2" dy="-0.4" font-size="27">=</tspan></text>
<text x="801.0" y="347.7" font-family="'Liberation Sans', 'DejaVu Sans', sans-serif" font-size="19.3" textLength="35.1" lengthAdjust="spacingAndGlyphs">0.25</text>
<line x1="637.2" y1="375.1" x2="683.8" y2="375.1" stroke="#000" stroke-width="3.8" stroke-linecap="square"/>
<text x="700.5" y="381.0" font-family="'Liberation Sans', 'DejaVu Sans', sans-serif" font-size="20.8" textLength="77.5" lengthAdjust="spacingAndGlyphs">TEDOPA</text>
<text y="665" font-family="'Liberation Serif', 'DejaVu Serif', serif" font-size="60" font-style="italic"><tspan x="486.5" font-size="57">ω</tspan><tspan x="525" font-size="42" dy="9">c</tspan><tspan x="543.5" dy="-9" font-size="68">t</tspan></text>
<text transform="translate(62.6,404) rotate(-90)" font-family="'Liberation Serif', 'DejaVu Serif', serif" font-size="52"><tspan x="-27.5" font-family="'Noto Serif CJK SC', 'Noto Sans CJK SC', 'DejaVu Serif', serif" font-size="50" dy="6.4">〈</tspan><tspan x="21" dy="-6.4" font-style="italic" font-size="47">σ</tspan><tspan x="42.5" font-style="italic" font-size="35" dy="7">z</tspan><tspan x="56" dy="-0.6" font-family="'Noto Serif CJK SC', 'Noto Sans CJK SC', 'DejaVu Serif', serif" font-size="50">〉</tspan><tspan x="82" dy="-6.4">(</tspan><tspan x="97.5" font-style="italic">t</tspan><tspan x="112">)</tspan></text>
<text x="-2.5" y="38.5" font-family="'Liberation Serif', 'DejaVu Serif', serif" font-size="55">(a)</text>
<defs>
<linearGradient id="gG" x1="0" y1="0" x2="1" y2="0"><stop offset="0.000" stop-color="#b5ff82"/><stop offset="0.250" stop-color="#bcff8e"/><stop offset="0.480" stop-color="#c7ffa0"/><stop offset="0.600" stop-color="#d0ffaf"/><stop offset="0.705" stop-color="#daffc0"/><stop offset="0.850" stop-color="#e8ffd8"/><stop offset="0.940" stop-color="#f5ffee"/><stop offset="1.000" stop-color="#ffffff"/></linearGradient>
<linearGradient id="gR" x1="0" y1="0" x2="1" y2="0"><stop offset="0.000" stop-color="#ffffff"/><stop offset="0.050" stop-color="#fffcfc"/><stop offset="0.130" stop-color="#fff0f0"/><stop offset="0.250" stop-color="#fee4e4"/><stop offset="0.380" stop-color="#fed6d6"/><stop offset="0.500" stop-color="#fec3c4"/><stop offset="0.620" stop-color="#fdb9b9"/><stop offset="0.750" stop-color="#fdb0b1"/><stop offset="0.870" stop-color="#fdaaab"/><stop offset="1.000" stop-color="#fda7a8"/></linearGradient>
<linearGradient id="giG" x1="0" y1="0" x2="1" y2="0"><stop offset="0.000" stop-color="#b2fa7d"/><stop offset="0.250" stop-color="#befb90"/><stop offset="0.500" stop-color="#d1fcb1"/><stop offset="0.750" stop-color="#e8fed8"/><stop offset="0.900" stop-color="#f7fef2"/><stop offset="1.000" stop-color="#ffffff"/></linearGradient>
<linearGradient id="giR" x1="0" y1="0" x2="1" y2="0"><stop offset="0.000" stop-color="#ffffff"/><stop offset="0.100" stop-color="#fffdfd"/><stop offset="0.250" stop-color="#fff4f5"/><stop offset="0.500" stop-color="#fee0e1"/><stop offset="0.750" stop-color="#fecfcf"/><stop offset="0.900" stop-color="#febdbe"/><stop offset="1.000" stop-color="#fdabac"/></linearGradient>
</defs>
<rect x="1201.5" y="32.5" width="423.9" height="583.0" fill="url(#gG)"/>
<rect x="1625.4" y="32.5" width="373.6" height="299.5" fill="url(#gR)"/>
<line x1="1625.4" y1="32.5" x2="1625.4" y2="615.5" stroke="#6e6e6e" stroke-width="1.2"/>
<text x="1432" y="88.3" font-family="'DejaVu Serif', 'Liberation Serif', serif" font-size="46.5" textLength="168.7" lengthAdjust="spacingAndGlyphs">Trotter</text>
<text x="1648.6" y="88.2" font-family="'DejaVu Serif', 'Liberation Serif', serif" font-size="42.8" textLength="332.5" lengthAdjust="spacingAndGlyphs">Undersampling</text>
<g fill="none" stroke-width="3.6">
<line x1="1237.7" y1="488.2" x2="1619.4" y2="246.8" stroke="#ffa500" stroke-dasharray="13.4 5.7"/>
<line x1="1238.5" y1="453.9" x2="1619.4" y2="253.2" stroke="#ff8c00" stroke-dasharray="23 5.7 3.6 5.7"/>
<line x1="1239.7" y1="568.0" x2="1620.5" y2="246.8" stroke="#ff0000" stroke-dasharray="10.8 3.6 3.6 3.6 3.6 3.6"/>
<line x1="1625.4" y1="244.1" x2="1963.3" y2="101.6" stroke="#008000" stroke-dasharray="3.6 5.8"/>
</g>
<g fill="none" stroke="#000" stroke-width="1" stroke-dasharray="1 1">
<polyline points="1674.9,226.1 1847.7,224.3 1847.7,151.3"/>
</g>
<line x1="1786.8" y1="223.6" x2="1845.6" y2="199.5" stroke="#008000" stroke-width="3.6" stroke-dasharray="3.6 5.7"/>
<text transform="translate(1789.5,219.5) rotate(-23)" font-family="'Liberation Serif', 'DejaVu Serif', serif" font-size="25">2<tspan font-style="italic" dx="0.8">π</tspan><tspan font-size="17" dy="-10" dx="0.8">2</tspan><tspan dy="10" dx="3.5" font-style="italic">α</tspan></text>
<circle cx="1237.0" cy="449.2" r="6" fill="#0000ff"/>
<circle cx="1317.9" cy="409.1" r="6" fill="#0000ff"/>
<circle cx="1404.5" cy="361.8" r="6" fill="#0000ff"/>
<circle cx="1431.3" cy="347.9" r="6" fill="#0000ff"/>
<circle cx="1460.6" cy="372.7" r="6" fill="#0000ff"/>
<circle cx="1476.9" cy="360.5" r="6" fill="#0000ff"/>
<circle cx="1493.9" cy="316.3" r="6" fill="#0000ff"/>
<circle cx="1511.5" cy="307.1" r="6" fill="#0000ff"/>
<circle cx="1531.2" cy="322.4" r="6" fill="#0000ff"/>
<circle cx="1552.0" cy="286.1" r="6" fill="#0000ff"/>
<circle cx="1574.1" cy="293.5" r="6" fill="#0000ff"/>
<circle cx="1598.9" cy="260.9" r="6" fill="#0000ff"/>
<circle cx="1625.4" cy="245.6" r="6" fill="#0000ff"/>
<circle cx="1687.8" cy="213.1" r="6" fill="#0000ff"/>
<circle cx="1725.0" cy="202.2" r="6" fill="#0000ff"/>
<circle cx="1768.1" cy="181.4" r="6" fill="#0000ff"/>
<circle cx="1819.6" cy="160.6" r="6" fill="#0000ff"/>
<circle cx="1881.6" cy="146.7" r="6" fill="#0000ff"/>
<circle cx="1962.3" cy="139.2" r="6" fill="#0000ff"/>
<rect x="1626.1" y="332" width="372.9" height="283.5" fill="#fff"/>
<rect x="1674.6" y="345.5" width="169.9" height="233.3" fill="url(#giG)"/>
<rect x="1844.5" y="345.5" width="150.0" height="233.3" fill="url(#giR)"/>
<line x1="1844.5" y1="345.5" x2="1844.5" y2="578.8" stroke="#777" stroke-width="1"/>
<path d="M1755.80,578.80 C1756.93,575.73 1759.95,566.87 1762.60,560.40 C1765.25,553.93 1768.67,546.42 1771.70,540.00 C1774.73,533.58 1777.78,527.57 1780.80,521.90 C1783.82,516.23 1786.78,510.92 1789.80,506.00 C1792.82,501.08 1795.88,496.92 1798.90,492.40 C1801.92,487.88 1804.88,483.05 1807.90,478.90 C1810.92,474.75 1813.98,471.28 1817.00,467.50 C1820.02,463.72 1822.98,459.97 1826.00,456.20 C1829.02,452.43 1832.08,448.48 1835.10,444.90 C1838.12,441.32 1842.60,436.40 1844.10,434.70" fill="none" stroke="#ff0000" stroke-width="3.6"/>
<line x1="1689.8" y1="530.7" x2="1844.5" y2="432.6" stroke="#ffa500" stroke-width="3.6" stroke-dasharray="10 4.5"/>
<line x1="1844.5" y1="432.6" x2="1980.4" y2="375.2" stroke="#008000" stroke-width="3.4" stroke-dasharray="3.4 4.4"/>
<circle cx="1689.0" cy="557.8" r="2.7" fill="#0000ff"/>
<circle cx="1721.4" cy="511.0" r="2.7" fill="#0000ff"/>
<circle cx="1755.9" cy="485.2" r="2.7" fill="#0000ff"/>
<circle cx="1766.7" cy="478.2" r="2.7" fill="#0000ff"/>
<circle cx="1778.5" cy="545.2" r="2.7" fill="#0000ff"/>
<circle cx="1784.8" cy="516.9" r="2.7" fill="#0000ff"/>
<circle cx="1791.8" cy="464.4" r="2.7" fill="#0000ff"/>
<circle cx="1799.1" cy="460.3" r="2.7" fill="#0000ff"/>
<circle cx="1806.3" cy="477.5" r="2.7" fill="#0000ff"/>
<circle cx="1815.2" cy="451.5" r="2.7" fill="#0000ff"/>
<circle cx="1824.0" cy="461.0" r="2.7" fill="#0000ff"/>
<circle cx="1833.7" cy="440.4" r="2.7" fill="#0000ff"/>
<circle cx="1844.4" cy="434.3" r="2.7" fill="#0000ff"/>
<circle cx="1869.6" cy="419.5" r="2.7" fill="#0000ff"/>
<circle cx="1884.4" cy="416.2" r="2.7" fill="#0000ff"/>
<circle cx="1901.6" cy="405.1" r="2.7" fill="#0000ff"/>
<circle cx="1922.5" cy="394.9" r="2.7" fill="#0000ff"/>
<circle cx="1947.2" cy="389.1" r="2.7" fill="#0000ff"/>
<circle cx="1979.6" cy="386.2" r="2.7" fill="#0000ff"/>
<rect x="1674.6" y="345.5" width="319.9" height="233.3" fill="none" stroke="#000" stroke-width="1"/>
<rect x="1682" y="351.6" width="84" height="34.2" rx="2" fill="#fff"/>
<line x1="1687" y1="358.7" x2="1700.6" y2="358.7" stroke="#ffa500" stroke-width="3.4"/>
<line x1="1687" y1="374.6" x2="1700.6" y2="374.6" stroke="#008000" stroke-width="3.4" stroke-dasharray="3.4 6.8"/>
<text x="1712.4" y="364.6" font-family="'Liberation Serif', 'DejaVu Serif', serif" font-size="13.5" textLength="40" lengthAdjust="spacingAndGlyphs"><tspan font-style="italic">O</tspan>(Δ<tspan font-style="italic">t</tspan><tspan font-size="9.5" dy="-5">3</tspan><tspan dy="5">)</tspan></text>
<text x="1712.4" y="378.7" font-family="'Liberation Serif', 'DejaVu Serif', serif" font-size="13.5" textLength="40" lengthAdjust="spacingAndGlyphs"><tspan font-style="italic">O</tspan>(Δ<tspan font-style="italic">t</tspan><tspan font-size="9.5" dy="-5">2</tspan><tspan dy="5">)</tspan></text>
<g stroke="#000" stroke-width="0.7">
<line x1="1672.1" y1="578.80" x2="1674.6" y2="578.80"/>
<line x1="1672.1" y1="524.40" x2="1674.6" y2="524.40"/>
<line x1="1672.1" y1="470.00" x2="1674.6" y2="470.00"/>
<line x1="1672.1" y1="415.60" x2="1674.6" y2="415.60"/>
<line x1="1672.1" y1="361.20" x2="1674.6" y2="361.20"/>
<line x1="1709.96" y1="578.8" x2="1709.96" y2="580.4" stroke-width="0.5"/>
<line x1="1742.11" y1="578.8" x2="1742.11" y2="580.4" stroke-width="0.5"/>
<line x1="1767.04" y1="578.8" x2="1767.04" y2="580.4" stroke-width="0.5"/>
<line x1="1787.42" y1="578.8" x2="1787.42" y2="580.4" stroke-width="0.5"/>
<line x1="1804.64" y1="578.8" x2="1804.64" y2="580.4" stroke-width="0.5"/>
<line x1="1819.57" y1="578.8" x2="1819.57" y2="580.4" stroke-width="0.5"/>
<line x1="1832.73" y1="578.8" x2="1832.73" y2="580.4" stroke-width="0.5"/>
<line x1="1921.96" y1="578.8" x2="1921.96" y2="580.4" stroke-width="0.5"/>
<line x1="1967.26" y1="578.8" x2="1967.26" y2="580.4" stroke-width="0.5"/>
<line x1="1844.5" y1="578.8" x2="1844.5" y2="581.3"/>
</g>
<g font-family="'DejaVu Sans', 'Liberation Sans', sans-serif" font-size="8" font-weight="bold" fill="#111">
<text x="1671.5" y="582.0" text-anchor="end">10<tspan font-size="6" dy="-3.5">−4</tspan></text>
<text x="1671.5" y="527.6" text-anchor="end">10<tspan font-size="6" dy="-3.5">−3</tspan></text>
<text x="1671.5" y="473.2" text-anchor="end">10<tspan font-size="6" dy="-3.5">−2</tspan></text>
<text x="1671.5" y="418.8" text-anchor="end">10<tspan font-size="6" dy="-3.5">−1</tspan></text>
<text x="1671.5" y="364.4" text-anchor="end">10<tspan font-size="6" dy="-3.5">0</tspan></text>
<text x="1844.5" y="588" text-anchor="middle" font-size="8">1</text>
</g>
<text transform="translate(1645,547.6) rotate(-90)" font-family="'Liberation Serif', 'DejaVu Serif', serif" font-size="23" textLength="182.7" lengthAdjust="spacingAndGlyphs">Steady State Error</text>
<text x="1804.7" y="609" font-family="'Liberation Serif', 'DejaVu Serif', serif" font-size="26" textLength="80" lengthAdjust="spacingAndGlyphs">Δ<tspan font-style="italic">t</tspan>/Δ<tspan font-style="italic">t</tspan><tspan font-size="19" dy="3.5">th</tspan></text>
<path d="M1201,32.5 H1999.5 M1999,32.5 V615.5 M1201.5,32 V616 M1201,615.5 H1999.5" fill="none" stroke="#111" stroke-width="1.05"/>
<g stroke="#000" stroke-width="1">
<line x1="1198.0" y1="614.98" x2="1201.5" y2="614.98" stroke-width="1.2"/>
<line x1="1199.5" y1="574.14" x2="1201.5" y2="574.14" stroke-width="0.8"/>
<line x1="1199.5" y1="550.25" x2="1201.5" y2="550.25" stroke-width="0.8"/>
<line x1="1199.5" y1="533.30" x2="1201.5" y2="533.30" stroke-width="0.8"/>
<line x1="1199.5" y1="520.15" x2="1201.5" y2="520.15" stroke-width="0.8"/>
<line x1="1199.5" y1="509.41" x2="1201.5" y2="509.41" stroke-width="0.8"/>
<line x1="1199.5" y1="500.33" x2="1201.5" y2="500.33" stroke-width="0.8"/>
<line x1="1199.5" y1="492.46" x2="1201.5" y2="492.46" stroke-width="0.8"/>
<line x1="1199.5" y1="485.52" x2="1201.5" y2="485.52" stroke-width="0.8"/>
<line x1="1198.0" y1="479.31" x2="1201.5" y2="479.31" stroke-width="1.2"/>
<line x1="1199.5" y1="438.47" x2="1201.5" y2="438.47" stroke-width="0.8"/>
<line x1="1199.5" y1="414.58" x2="1201.5" y2="414.58" stroke-width="0.8"/>
<line x1="1199.5" y1="397.63" x2="1201.5" y2="397.63" stroke-width="0.8"/>
<line x1="1199.5" y1="384.48" x2="1201.5" y2="384.48" stroke-width="0.8"/>
<line x1="1199.5" y1="373.74" x2="1201.5" y2="373.74" stroke-width="0.8"/>
<line x1="1199.5" y1="364.66" x2="1201.5" y2="364.66" stroke-width="0.8"/>
<line x1="1199.5" y1="356.79" x2="1201.5" y2="356.79" stroke-width="0.8"/>
<line x1="1199.5" y1="349.85" x2="1201.5" y2="349.85" stroke-width="0.8"/>
<line x1="1198.0" y1="343.64" x2="1201.5" y2="343.64" stroke-width="1.2"/>
<line x1="1199.5" y1="302.80" x2="1201.5" y2="302.80" stroke-width="0.8"/>
<line x1="1199.5" y1="278.91" x2="1201.5" y2="278.91" stroke-width="0.8"/>
<line x1="1199.5" y1="261.96" x2="1201.5" y2="261.96" stroke-width="0.8"/>
<line x1="1199.5" y1="248.81" x2="1201.5" y2="248.81" stroke-width="0.8"/>
<line x1="1199.5" y1="238.07" x2="1201.5" y2="238.07" stroke-width="0.8"/>
<line x1="1199.5" y1="228.99" x2="1201.5" y2="228.99" stroke-width="0.8"/>
<line x1="1199.5" y1="221.12" x2="1201.5" y2="221.12" stroke-width="0.8"/>
<line x1="1199.5" y1="214.18" x2="1201.5" y2="214.18" stroke-width="0.8"/>
<line x1="1198.0" y1="207.97" x2="1201.5" y2="207.97" stroke-width="1.2"/>
<line x1="1199.5" y1="167.13" x2="1201.5" y2="167.13" stroke-width="0.8"/>
<line x1="1199.5" y1="143.24" x2="1201.5" y2="143.24" stroke-width="0.8"/>
<line x1="1199.5" y1="126.29" x2="1201.5" y2="126.29" stroke-width="0.8"/>
<line x1="1199.5" y1="113.14" x2="1201.5" y2="113.14" stroke-width="0.8"/>
<line x1="1199.5" y1="102.40" x2="1201.5" y2="102.40" stroke-width="0.8"/>
<line x1="1199.5" y1="93.32" x2="1201.5" y2="93.32" stroke-width="0.8"/>
<line x1="1199.5" y1="85.45" x2="1201.5" y2="85.45" stroke-width="0.8"/>
<line x1="1199.5" y1="78.51" x2="1201.5" y2="78.51" stroke-width="0.8"/>
<line x1="1198.0" y1="72.30" x2="1201.5" y2="72.30" stroke-width="1.2"/>
<line x1="1288.93" y1="615.5" x2="1288.93" y2="617.5" stroke-width="0.8"/>
<line x1="1369.33" y1="615.5" x2="1369.33" y2="617.5" stroke-width="0.8"/>
<line x1="1431.69" y1="615.5" x2="1431.69" y2="617.5" stroke-width="0.8"/>
<line x1="1482.64" y1="615.5" x2="1482.64" y2="617.5" stroke-width="0.8"/>
<line x1="1525.72" y1="615.5" x2="1525.72" y2="617.5" stroke-width="0.8"/>
<line x1="1563.04" y1="615.5" x2="1563.04" y2="617.5" stroke-width="0.8"/>
<line x1="1595.96" y1="615.5" x2="1595.96" y2="617.5" stroke-width="0.8"/>
<line x1="1819.11" y1="615.5" x2="1819.11" y2="617.5" stroke-width="0.8"/>
<line x1="1932.43" y1="615.5" x2="1932.43" y2="617.5" stroke-width="0.8"/>
<line x1="1625.40" y1="615.5" x2="1625.40" y2="619.0" stroke-width="1.2"/>
</g>
<g font-family="'DejaVu Sans', 'Liberation Sans', sans-serif" font-size="21.8" fill="#000">
<text x="1194" y="623.1" text-anchor="end">10<tspan font-size="15" dy="-8.2">−4</tspan></text>
<text x="1194" y="487.4" text-anchor="end">10<tspan font-size="15" dy="-8.2">−3</tspan></text>
<text x="1194" y="351.7" text-anchor="end">10<tspan font-size="15" dy="-8.2">−2</tspan></text>
<text x="1194" y="216.1" text-anchor="end">10<tspan font-size="15" dy="-8.2">−1</tspan></text>
<text x="1194" y="80.4" text-anchor="end">10<tspan font-size="15" dy="-8.2">0</tspan></text>
<text x="1625.4" y="635.7" text-anchor="middle" font-size="20.5">1</text>
</g>
<rect x="1204.2" y="38.3" width="207.3" height="135.9" rx="4" fill="#fff"/>
<g fill="none" stroke-width="3.5">
<line x1="1217.1" y1="57.2" x2="1261.3" y2="57.2" stroke="#ffa500" stroke-dasharray="13.4 5.7"/>
<line x1="1217.1" y1="89.6" x2="1261.3" y2="89.6" stroke="#ff8c00" stroke-dasharray="23 5.7 3.6 5.7"/>
<line x1="1217.1" y1="121.9" x2="1261.3" y2="121.9" stroke="#ff0000" stroke-dasharray="10.5 3.5 3.5 3.5 3.5 3.5"/>
<line x1="1217.1" y1="154.2" x2="1261.3" y2="154.2" stroke="#008000" stroke-dasharray="3.6 5.7"/>
</g>
<text y="66.7" font-family="'Liberation Serif', 'DejaVu Serif', serif" font-size="28.5"><tspan x="1284.3" font-style="italic" textLength="19" lengthAdjust="spacingAndGlyphs">O</tspan><tspan x="1309.8">(</tspan><tspan x="1320.8" textLength="22.4" lengthAdjust="spacingAndGlyphs">Δ</tspan><tspan x="1342.6" font-style="italic" textLength="10" lengthAdjust="spacingAndGlyphs">t</tspan><tspan x="1355.3" dy="-10.3" font-size="20" textLength="12.0" lengthAdjust="spacingAndGlyphs">3</tspan><tspan x="1370.6" dy="10.3">)</tspan></text>
<text y="99.0" font-family="'Liberation Serif', 'DejaVu Serif', serif" font-size="28.5"><tspan x="1282.6" font-style="italic" textLength="19" lengthAdjust="spacingAndGlyphs">O</tspan><tspan x="1309.8">(</tspan><tspan x="1320.8" textLength="22.4" lengthAdjust="spacingAndGlyphs">Δ</tspan><tspan x="1342.6" font-style="italic" textLength="10" lengthAdjust="spacingAndGlyphs">t</tspan><tspan x="1355.3" dy="-10.3" font-size="20" textLength="34.0" lengthAdjust="spacingAndGlyphs">2.5</tspan><tspan x="1391.5" dy="10.3">)</tspan></text>
<text y="131.3" font-family="'Liberation Serif', 'DejaVu Serif', serif" font-size="28.5"><tspan x="1282.6" font-style="italic" textLength="19" lengthAdjust="spacingAndGlyphs">O</tspan><tspan x="1309.8">(</tspan><tspan x="1320.8" textLength="22.4" lengthAdjust="spacingAndGlyphs">Δ</tspan><tspan x="1342.6" font-style="italic" textLength="10" lengthAdjust="spacingAndGlyphs">t</tspan><tspan x="1355.3" dy="-10.3" font-size="20" textLength="13.5" lengthAdjust="spacingAndGlyphs">4</tspan><tspan x="1372.6" dy="10.3">)</tspan></text>
<text y="163.6" font-family="'Liberation Serif', 'DejaVu Serif', serif" font-size="28.5"><tspan x="1281.0" font-style="italic" textLength="19" lengthAdjust="spacingAndGlyphs">O</tspan><tspan x="1309.8">(</tspan><tspan x="1320.8" textLength="22.4" lengthAdjust="spacingAndGlyphs">Δ</tspan><tspan x="1342.6" font-style="italic" textLength="10" lengthAdjust="spacingAndGlyphs">t</tspan><tspan x="1356.0" dy="-10.3" font-size="20" textLength="14.5" lengthAdjust="spacingAndGlyphs">2</tspan><tspan x="1376.6" dy="10.3">)</tspan></text>
<text transform="translate(1125.5,495.8) rotate(-90)" font-family="'Liberation Serif', 'DejaVu Serif', serif" font-size="60" textLength="339.4" lengthAdjust="spacingAndGlyphs">Average Error</text>
<text y="692.6" font-family="'Liberation Serif', 'DejaVu Serif', serif" font-size="60"><tspan x="1545.3" textLength="40.6" lengthAdjust="spacingAndGlyphs">Δ</tspan><tspan x="1588.8" font-style="italic">t</tspan><tspan x="1609.5" font-size="80" dy="12">/</tspan><tspan x="1638.4" dy="-12" textLength="40.6" lengthAdjust="spacingAndGlyphs">Δ</tspan><tspan x="1682" font-style="italic">t</tspan><tspan x="1702.4" font-size="40" dy="7.5" textLength="39.5" lengthAdjust="spacingAndGlyphs">th</tspan></text>
<text x="1007" y="38.5" font-family="'Liberation Serif', 'DejaVu Serif', serif" font-size="55">(b)</text>
</svg></body></html>
